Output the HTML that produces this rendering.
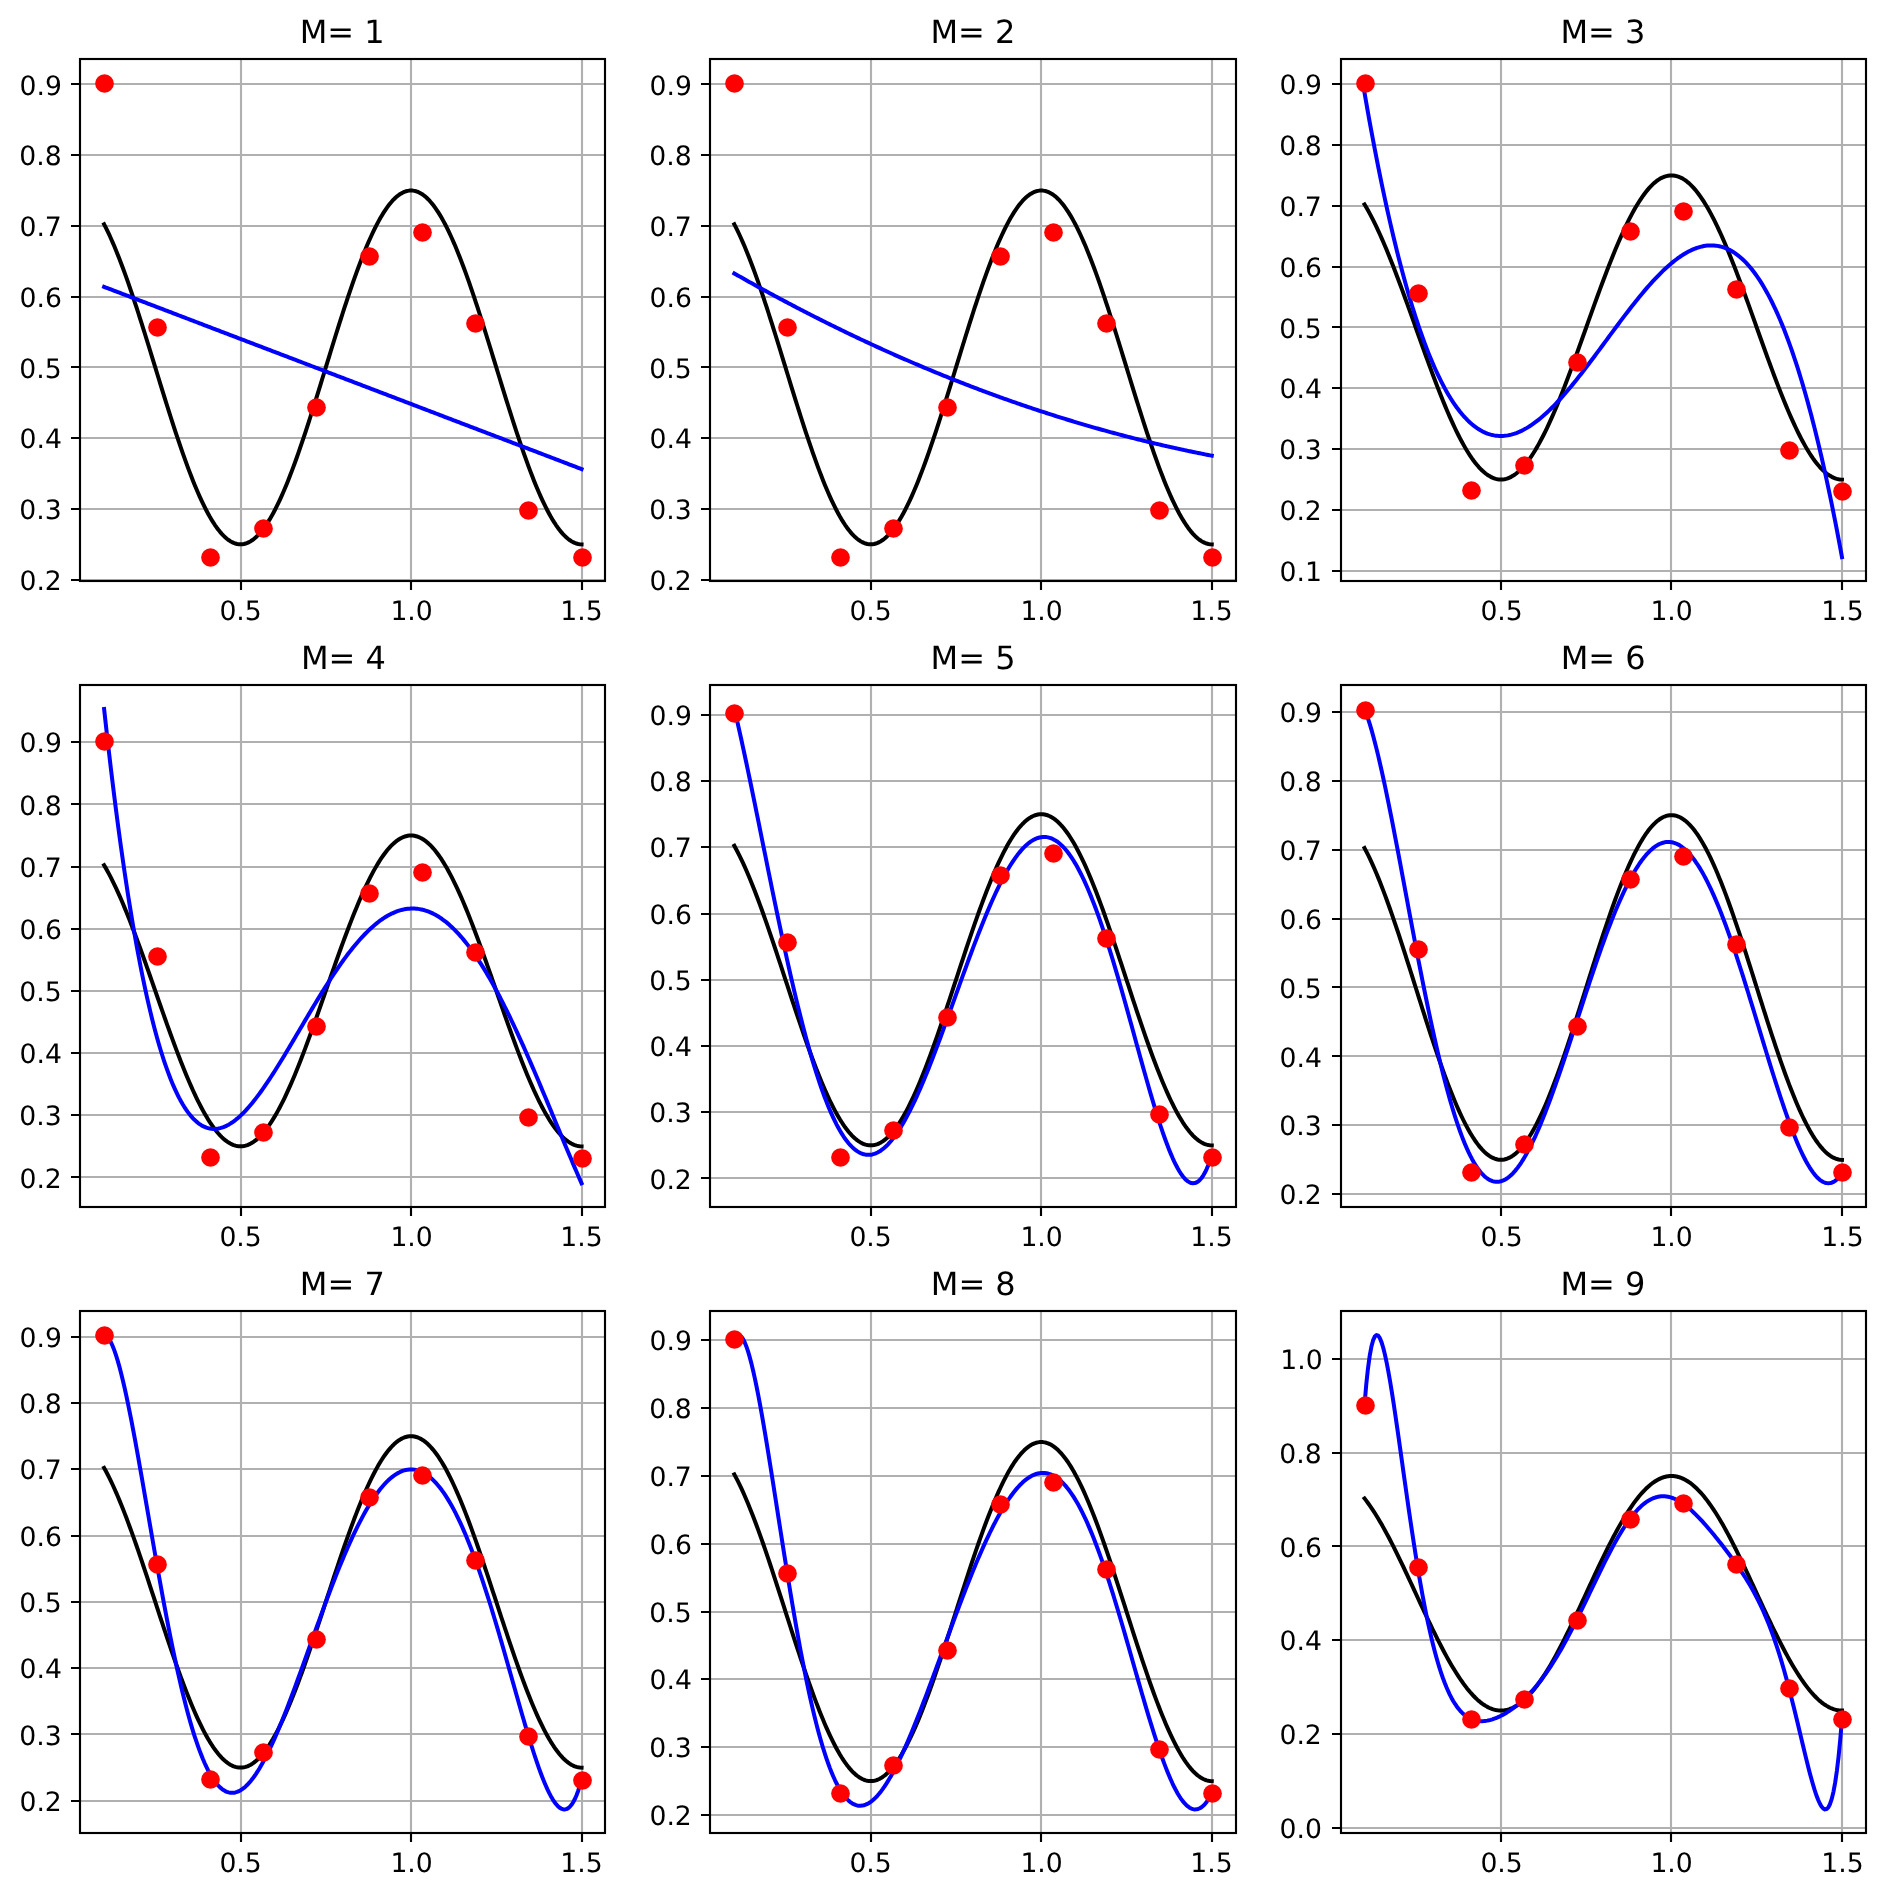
<!DOCTYPE html>
<html lang="en"><head><meta charset="utf-8"><title>Polynomial fits M=1..9</title>
<style>html,body{margin:0;padding:0;background:#fff;width:1885px;height:1897px;overflow:hidden}svg{display:block;will-change:transform}text{font-family:"DejaVu Sans","Liberation Sans",sans-serif;fill:#000;text-rendering:geometricPrecision}</style>
</head><body>
<svg width="1885" height="1897" viewBox="0 0 1885 1897">
<rect width="1885" height="1897" fill="#fff"/>
<g>
<path d="M241 59 V581 M411 59 V581 M582 59 V581 M80 580 H605 M80 509 H605 M80 438 H605 M80 367 H605 M80 297 H605 M80 226 H605 M80 155 H605 M80 84 H605" stroke="#b0b0b0" stroke-width="2.133" fill="none"/>
<path d="M241 581 v9 M411 581 v9 M582 581 v9 M80 580 h-9 M80 509 h-9 M80 438 h-9 M80 367 h-9 M80 297 h-9 M80 226 h-9 M80 155 h-9 M80 84 h-9" stroke="#000" stroke-width="2.133" fill="none"/>
<path d="M104.11 224.31 105.82 227.64 107.52 231.12 109.23 234.73 110.93 238.46 112.64 242.33 114.34 246.32 116.05 250.43 117.75 254.66 119.46 258.99 121.16 263.44 122.87 267.98 124.57 272.63 126.28 277.37 127.98 282.19 129.69 287.1 131.4 292.09 133.1 297.16 134.81 302.29 136.51 307.49 138.22 312.75 139.92 318.06 141.63 323.42 143.33 328.82 145.04 334.26 146.74 339.74 148.45 345.24 150.15 350.76 151.86 356.3 153.56 361.85 155.27 367.41 156.97 372.97 158.68 378.52 160.38 384.06 162.09 389.58 163.79 395.08 165.5 400.55 167.2 406 168.91 411.4 170.61 416.76 172.32 422.07 174.02 427.33 175.73 432.53 177.43 437.66 179.14 442.72 180.84 447.71 182.55 452.63 184.25 457.45 185.96 462.19 187.66 466.83 189.37 471.38 191.07 475.82 192.78 480.16 194.48 484.39 196.19 488.5 197.89 492.49 199.6 496.35 201.31 500.09 203.01 503.7 204.72 507.18 206.42 510.51 208.13 513.71 209.83 516.76 211.54 519.66 213.24 522.42 214.95 525.02 216.65 527.46 218.36 529.75 220.06 531.87 221.77 533.84 223.47 535.64 225.18 537.27 226.88 538.74 228.59 540.04 230.29 541.16 232 542.12 233.7 542.9 235.41 543.51 237.11 543.95 238.82 544.21 240.52 544.3 242.23 544.21 243.93 543.95 245.64 543.51 247.34 542.9 249.05 542.12 250.75 541.16 252.46 540.04 254.16 538.74 255.87 537.27 257.57 535.64 259.28 533.84 260.98 531.87 262.69 529.75 264.39 527.46 266.1 525.02 267.8 522.42 269.51 519.66 271.21 516.76 272.92 513.71 274.63 510.51 276.33 507.18 278.04 503.7 279.74 500.09 281.45 496.35 283.15 492.49 284.86 488.5 286.56 484.39 288.27 480.16 289.97 475.82 291.68 471.38 293.38 466.83 295.09 462.19 296.79 457.45 298.5 452.63 300.2 447.71 301.91 442.72 303.61 437.66 305.32 432.53 307.02 427.33 308.73 422.07 310.43 416.76 312.14 411.4 313.84 406 315.55 400.55 317.25 395.08 318.96 389.58 320.66 384.06 322.37 378.52 324.07 372.97 325.78 367.41 327.48 361.85 329.19 356.3 330.89 350.76 332.6 345.24 334.3 339.74 336.01 334.26 337.71 328.82 339.42 323.42 341.12 318.06 342.83 312.75 344.54 307.49 346.24 302.29 347.95 297.16 349.65 292.09 351.36 287.1 353.06 282.19 354.77 277.37 356.47 272.63 358.18 267.98 359.88 263.44 361.59 258.99 363.29 254.66 365 250.43 366.7 246.32 368.41 242.33 370.11 238.46 371.82 234.73 373.52 231.12 375.23 227.64 376.93 224.31 378.64 221.11 380.34 218.06 382.05 215.16 383.75 212.4 385.46 209.8 387.16 207.36 388.87 205.07 390.57 202.94 392.28 200.98 393.98 199.18 395.69 197.55 397.39 196.08 399.1 194.78 400.8 193.66 402.51 192.7 404.21 191.92 405.92 191.31 407.62 190.87 409.33 190.61 411.03 190.52 412.74 190.61 414.44 190.87 416.15 191.31 417.86 191.92 419.56 192.7 421.27 193.66 422.97 194.78 424.68 196.08 426.38 197.55 428.09 199.18 429.79 200.98 431.5 202.94 433.2 205.07 434.91 207.36 436.61 209.8 438.32 212.4 440.02 215.16 441.73 218.06 443.43 221.11 445.14 224.31 446.84 227.64 448.55 231.12 450.25 234.73 451.96 238.46 453.66 242.33 455.37 246.32 457.07 250.43 458.78 254.66 460.48 258.99 462.19 263.44 463.89 267.98 465.6 272.63 467.3 277.37 469.01 282.19 470.71 287.1 472.42 292.09 474.12 297.16 475.83 302.29 477.53 307.49 479.24 312.75 480.94 318.06 482.65 323.42 484.35 328.82 486.06 334.26 487.76 339.74 489.47 345.24 491.18 350.76 492.88 356.3 494.59 361.85 496.29 367.41 498 372.97 499.7 378.52 501.41 384.06 503.11 389.58 504.82 395.08 506.52 400.55 508.23 406 509.93 411.4 511.64 416.76 513.34 422.07 515.05 427.33 516.75 432.53 518.46 437.66 520.16 442.72 521.87 447.71 523.57 452.63 525.28 457.45 526.98 462.19 528.69 466.83 530.39 471.38 532.1 475.82 533.8 480.16 535.51 484.39 537.21 488.5 538.92 492.49 540.62 496.35 542.33 500.09 544.03 503.7 545.74 507.18 547.44 510.51 549.15 513.71 550.85 516.76 552.56 519.66 554.26 522.42 555.97 525.02 557.67 527.46 559.38 529.75 561.09 531.87 562.79 533.84 564.5 535.64 566.2 537.27 567.91 538.74 569.61 540.04 571.32 541.16 573.02 542.12 574.73 542.9 576.43 543.51 578.14 543.95 579.84 544.21 581.55 544.3" stroke="#000" stroke-width="4.000" fill="none" stroke-linecap="square" stroke-linejoin="round"/>
<path d="M104.11 286.87 105.82 287.52 107.52 288.17 109.23 288.82 110.93 289.47 112.64 290.12 114.34 290.77 116.05 291.42 117.75 292.07 119.46 292.72 121.16 293.37 122.87 294.02 124.57 294.68 126.28 295.33 127.98 295.98 129.69 296.63 131.4 297.28 133.1 297.93 134.81 298.58 136.51 299.23 138.22 299.88 139.92 300.53 141.63 301.18 143.33 301.83 145.04 302.48 146.74 303.13 148.45 303.78 150.15 304.44 151.86 305.09 153.56 305.74 155.27 306.39 156.97 307.04 158.68 307.69 160.38 308.34 162.09 308.99 163.79 309.64 165.5 310.29 167.2 310.94 168.91 311.59 170.61 312.24 172.32 312.89 174.02 313.55 175.73 314.2 177.43 314.85 179.14 315.5 180.84 316.15 182.55 316.8 184.25 317.45 185.96 318.1 187.66 318.75 189.37 319.4 191.07 320.05 192.78 320.7 194.48 321.35 196.19 322 197.89 322.66 199.6 323.31 201.31 323.96 203.01 324.61 204.72 325.26 206.42 325.91 208.13 326.56 209.83 327.21 211.54 327.86 213.24 328.51 214.95 329.16 216.65 329.81 218.36 330.46 220.06 331.11 221.77 331.76 223.47 332.42 225.18 333.07 226.88 333.72 228.59 334.37 230.29 335.02 232 335.67 233.7 336.32 235.41 336.97 237.11 337.62 238.82 338.27 240.52 338.92 242.23 339.57 243.93 340.22 245.64 340.87 247.34 341.53 249.05 342.18 250.75 342.83 252.46 343.48 254.16 344.13 255.87 344.78 257.57 345.43 259.28 346.08 260.98 346.73 262.69 347.38 264.39 348.03 266.1 348.68 267.8 349.33 269.51 349.98 271.21 350.63 272.92 351.29 274.63 351.94 276.33 352.59 278.04 353.24 279.74 353.89 281.45 354.54 283.15 355.19 284.86 355.84 286.56 356.49 288.27 357.14 289.97 357.79 291.68 358.44 293.38 359.09 295.09 359.74 296.79 360.4 298.5 361.05 300.2 361.7 301.91 362.35 303.61 363 305.32 363.65 307.02 364.3 308.73 364.95 310.43 365.6 312.14 366.25 313.84 366.9 315.55 367.55 317.25 368.2 318.96 368.85 320.66 369.51 322.37 370.16 324.07 370.81 325.78 371.46 327.48 372.11 329.19 372.76 330.89 373.41 332.6 374.06 334.3 374.71 336.01 375.36 337.71 376.01 339.42 376.66 341.12 377.31 342.83 377.96 344.54 378.61 346.24 379.27 347.95 379.92 349.65 380.57 351.36 381.22 353.06 381.87 354.77 382.52 356.47 383.17 358.18 383.82 359.88 384.47 361.59 385.12 363.29 385.77 365 386.42 366.7 387.07 368.41 387.72 370.11 388.38 371.82 389.03 373.52 389.68 375.23 390.33 376.93 390.98 378.64 391.63 380.34 392.28 382.05 392.93 383.75 393.58 385.46 394.23 387.16 394.88 388.87 395.53 390.57 396.18 392.28 396.83 393.98 397.48 395.69 398.14 397.39 398.79 399.1 399.44 400.8 400.09 402.51 400.74 404.21 401.39 405.92 402.04 407.62 402.69 409.33 403.34 411.03 403.99 412.74 404.64 414.44 405.29 416.15 405.94 417.86 406.59 419.56 407.25 421.27 407.9 422.97 408.55 424.68 409.2 426.38 409.85 428.09 410.5 429.79 411.15 431.5 411.8 433.2 412.45 434.91 413.1 436.61 413.75 438.32 414.4 440.02 415.05 441.73 415.7 443.43 416.36 445.14 417.01 446.84 417.66 448.55 418.31 450.25 418.96 451.96 419.61 453.66 420.26 455.37 420.91 457.07 421.56 458.78 422.21 460.48 422.86 462.19 423.51 463.89 424.16 465.6 424.81 467.3 425.46 469.01 426.12 470.71 426.77 472.42 427.42 474.12 428.07 475.83 428.72 477.53 429.37 479.24 430.02 480.94 430.67 482.65 431.32 484.35 431.97 486.06 432.62 487.76 433.27 489.47 433.92 491.18 434.57 492.88 435.23 494.59 435.88 496.29 436.53 498 437.18 499.7 437.83 501.41 438.48 503.11 439.13 504.82 439.78 506.52 440.43 508.23 441.08 509.93 441.73 511.64 442.38 513.34 443.03 515.05 443.68 516.75 444.33 518.46 444.99 520.16 445.64 521.87 446.29 523.57 446.94 525.28 447.59 526.98 448.24 528.69 448.89 530.39 449.54 532.1 450.19 533.8 450.84 535.51 451.49 537.21 452.14 538.92 452.79 540.62 453.44 542.33 454.1 544.03 454.75 545.74 455.4 547.44 456.05 549.15 456.7 550.85 457.35 552.56 458 554.26 458.65 555.97 459.3 557.67 459.95 559.38 460.6 561.09 461.25 562.79 461.9 564.5 462.55 566.2 463.21 567.91 463.86 569.61 464.51 571.32 465.16 573.02 465.81 574.73 466.46 576.43 467.11 578.14 467.76 579.84 468.41 581.55 469.06" stroke="#00f" stroke-width="4.000" fill="none" stroke-linecap="square" stroke-linejoin="round"/>
<g fill="#f00"><circle cx="104.5" cy="83.5" r="9.333"/><circle cx="157.5" cy="327.5" r="9.333"/><circle cx="210.5" cy="557.5" r="9.333"/><circle cx="263.5" cy="528.5" r="9.333"/><circle cx="316.5" cy="407.5" r="9.333"/><circle cx="369.5" cy="256.5" r="9.333"/><circle cx="422.5" cy="232.5" r="9.333"/><circle cx="475.5" cy="323.5" r="9.333"/><circle cx="528.5" cy="510.5" r="9.333"/><circle cx="582.5" cy="557.5" r="9.333"/></g>
<rect x="80" y="59" width="525" height="522" fill="none" stroke="#000" stroke-width="2.133"/>
<g font-size="26.667" text-anchor="end">
<text x="61.85" y="589.84">0.2</text>
<text x="61.62" y="518.79">0.3</text>
<text x="61.92" y="447.77">0.4</text>
<text x="61.75" y="377.74">0.5</text>
<text x="61.86" y="306.84">0.6</text>
<text x="61.85" y="235.85">0.7</text>
<text x="61.71" y="164.72">0.8</text>
<text x="61.86" y="94.70">0.9</text>
</g><g font-size="26.667" text-anchor="middle">
<text x="240.60" y="619.74">0.5</text>
<text x="411.59" y="619.80">1.0</text>
<text x="581.48" y="619.82">1.5</text>
</g>
<text font-size="32.000" text-anchor="middle" x="342.22" y="42.90">M= 1</text>
</g>
<g>
<path d="M871 59 V581 M1041 59 V581 M1212 59 V581 M710 580 H1236 M710 509 H1236 M710 438 H1236 M710 367 H1236 M710 297 H1236 M710 226 H1236 M710 155 H1236 M710 84 H1236" stroke="#b0b0b0" stroke-width="2.133" fill="none"/>
<path d="M871 581 v9 M1041 581 v9 M1212 581 v9 M710 580 h-9 M710 509 h-9 M710 438 h-9 M710 367 h-9 M710 297 h-9 M710 226 h-9 M710 155 h-9 M710 84 h-9" stroke="#000" stroke-width="2.133" fill="none"/>
<path d="M734.33 224.31 736.03 227.64 737.74 231.12 739.44 234.73 741.15 238.46 742.85 242.33 744.56 246.32 746.26 250.43 747.97 254.66 749.67 258.99 751.38 263.44 753.08 267.98 754.79 272.63 756.49 277.37 758.2 282.19 759.9 287.1 761.61 292.09 763.31 297.16 765.02 302.29 766.72 307.49 768.43 312.75 770.13 318.06 771.84 323.42 773.54 328.82 775.25 334.26 776.95 339.74 778.66 345.24 780.36 350.76 782.07 356.3 783.77 361.85 785.48 367.41 787.18 372.97 788.89 378.52 790.59 384.06 792.3 389.58 794 395.08 795.71 400.55 797.41 406 799.12 411.4 800.82 416.76 802.53 422.07 804.23 427.33 805.94 432.53 807.65 437.66 809.35 442.72 811.06 447.71 812.76 452.63 814.47 457.45 816.17 462.19 817.88 466.83 819.58 471.38 821.29 475.82 822.99 480.16 824.7 484.39 826.4 488.5 828.11 492.49 829.81 496.35 831.52 500.09 833.22 503.7 834.93 507.18 836.63 510.51 838.34 513.71 840.04 516.76 841.75 519.66 843.45 522.42 845.16 525.02 846.86 527.46 848.57 529.75 850.27 531.87 851.98 533.84 853.68 535.64 855.39 537.27 857.09 538.74 858.8 540.04 860.5 541.16 862.21 542.12 863.91 542.9 865.62 543.51 867.32 543.95 869.03 544.21 870.73 544.3 872.44 544.21 874.14 543.95 875.85 543.51 877.56 542.9 879.26 542.12 880.97 541.16 882.67 540.04 884.38 538.74 886.08 537.27 887.79 535.64 889.49 533.84 891.2 531.87 892.9 529.75 894.61 527.46 896.31 525.02 898.02 522.42 899.72 519.66 901.43 516.76 903.13 513.71 904.84 510.51 906.54 507.18 908.25 503.7 909.95 500.09 911.66 496.35 913.36 492.49 915.07 488.5 916.77 484.39 918.48 480.16 920.18 475.82 921.89 471.38 923.59 466.83 925.3 462.19 927 457.45 928.71 452.63 930.41 447.71 932.12 442.72 933.82 437.66 935.53 432.53 937.23 427.33 938.94 422.07 940.64 416.76 942.35 411.4 944.05 406 945.76 400.55 947.46 395.08 949.17 389.58 950.88 384.06 952.58 378.52 954.29 372.97 955.99 367.41 957.7 361.85 959.4 356.3 961.11 350.76 962.81 345.24 964.52 339.74 966.22 334.26 967.93 328.82 969.63 323.42 971.34 318.06 973.04 312.75 974.75 307.49 976.45 302.29 978.16 297.16 979.86 292.09 981.57 287.1 983.27 282.19 984.98 277.37 986.68 272.63 988.39 267.98 990.09 263.44 991.8 258.99 993.5 254.66 995.21 250.43 996.91 246.32 998.62 242.33 1000.32 238.46 1002.03 234.73 1003.73 231.12 1005.44 227.64 1007.14 224.31 1008.85 221.11 1010.55 218.06 1012.26 215.16 1013.96 212.4 1015.67 209.8 1017.37 207.36 1019.08 205.07 1020.78 202.94 1022.49 200.98 1024.2 199.18 1025.9 197.55 1027.61 196.08 1029.31 194.78 1031.02 193.66 1032.72 192.7 1034.43 191.92 1036.13 191.31 1037.84 190.87 1039.54 190.61 1041.25 190.52 1042.95 190.61 1044.66 190.87 1046.36 191.31 1048.07 191.92 1049.77 192.7 1051.48 193.66 1053.18 194.78 1054.89 196.08 1056.59 197.55 1058.3 199.18 1060 200.98 1061.71 202.94 1063.41 205.07 1065.12 207.36 1066.82 209.8 1068.53 212.4 1070.23 215.16 1071.94 218.06 1073.64 221.11 1075.35 224.31 1077.05 227.64 1078.76 231.12 1080.46 234.73 1082.17 238.46 1083.87 242.33 1085.58 246.32 1087.28 250.43 1088.99 254.66 1090.69 258.99 1092.4 263.44 1094.11 267.98 1095.81 272.63 1097.52 277.37 1099.22 282.19 1100.93 287.1 1102.63 292.09 1104.34 297.16 1106.04 302.29 1107.75 307.49 1109.45 312.75 1111.16 318.06 1112.86 323.42 1114.57 328.82 1116.27 334.26 1117.98 339.74 1119.68 345.24 1121.39 350.76 1123.09 356.3 1124.8 361.85 1126.5 367.41 1128.21 372.97 1129.91 378.52 1131.62 384.06 1133.32 389.58 1135.03 395.08 1136.73 400.55 1138.44 406 1140.14 411.4 1141.85 416.76 1143.55 422.07 1145.26 427.33 1146.96 432.53 1148.67 437.66 1150.37 442.72 1152.08 447.71 1153.78 452.63 1155.49 457.45 1157.19 462.19 1158.9 466.83 1160.6 471.38 1162.31 475.82 1164.01 480.16 1165.72 484.39 1167.43 488.5 1169.13 492.49 1170.84 496.35 1172.54 500.09 1174.25 503.7 1175.95 507.18 1177.66 510.51 1179.36 513.71 1181.07 516.76 1182.77 519.66 1184.48 522.42 1186.18 525.02 1187.89 527.46 1189.59 529.75 1191.3 531.87 1193 533.84 1194.71 535.64 1196.41 537.27 1198.12 538.74 1199.82 540.04 1201.53 541.16 1203.23 542.12 1204.94 542.9 1206.64 543.51 1208.35 543.95 1210.05 544.21 1211.76 544.3" stroke="#000" stroke-width="4.000" fill="none" stroke-linecap="square" stroke-linejoin="round"/>
<path d="M734.33 273.47 736.03 274.44 737.74 275.41 739.44 276.38 741.15 277.35 742.85 278.31 744.56 279.27 746.26 280.23 747.97 281.19 749.67 282.14 751.38 283.09 753.08 284.04 754.79 284.99 756.49 285.93 758.2 286.88 759.9 287.82 761.61 288.75 763.31 289.69 765.02 290.62 766.72 291.55 768.43 292.48 770.13 293.41 771.84 294.33 773.54 295.25 775.25 296.17 776.95 297.09 778.66 298.01 780.36 298.92 782.07 299.83 783.77 300.74 785.48 301.64 787.18 302.54 788.89 303.45 790.59 304.34 792.3 305.24 794 306.13 795.71 307.03 797.41 307.92 799.12 308.8 800.82 309.69 802.53 310.57 804.23 311.45 805.94 312.33 807.65 313.2 809.35 314.08 811.06 314.95 812.76 315.82 814.47 316.68 816.17 317.55 817.88 318.41 819.58 319.27 821.29 320.13 822.99 320.98 824.7 321.83 826.4 322.68 828.11 323.53 829.81 324.38 831.52 325.22 833.22 326.06 834.93 326.9 836.63 327.74 838.34 328.57 840.04 329.4 841.75 330.23 843.45 331.06 845.16 331.88 846.86 332.71 848.57 333.53 850.27 334.34 851.98 335.16 853.68 335.97 855.39 336.78 857.09 337.59 858.8 338.4 860.5 339.2 862.21 340.01 863.91 340.81 865.62 341.6 867.32 342.4 869.03 343.19 870.73 343.98 872.44 344.77 874.14 345.55 875.85 346.34 877.56 347.12 879.26 347.9 880.97 348.67 882.67 349.45 884.38 350.22 886.08 350.99 887.79 351.76 889.49 352.52 891.2 353.28 892.9 354.04 894.61 354.8 896.31 355.56 898.02 356.31 899.72 357.06 901.43 357.81 903.13 358.56 904.84 359.3 906.54 360.04 908.25 360.78 909.95 361.52 911.66 362.25 913.36 362.99 915.07 363.72 916.77 364.45 918.48 365.17 920.18 365.89 921.89 366.62 923.59 367.33 925.3 368.05 927 368.76 928.71 369.48 930.41 370.19 932.12 370.89 933.82 371.6 935.53 372.3 937.23 373 938.94 373.7 940.64 374.39 942.35 375.09 944.05 375.78 945.76 376.47 947.46 377.15 949.17 377.84 950.88 378.52 952.58 379.2 954.29 379.88 955.99 380.55 957.7 381.22 959.4 381.89 961.11 382.56 962.81 383.23 964.52 383.89 966.22 384.55 967.93 385.21 969.63 385.87 971.34 386.52 973.04 387.17 974.75 387.82 976.45 388.47 978.16 389.12 979.86 389.76 981.57 390.4 983.27 391.04 984.98 391.67 986.68 392.31 988.39 392.94 990.09 393.57 991.8 394.19 993.5 394.82 995.21 395.44 996.91 396.06 998.62 396.68 1000.32 397.29 1002.03 397.9 1003.73 398.51 1005.44 399.12 1007.14 399.73 1008.85 400.33 1010.55 400.93 1012.26 401.53 1013.96 402.13 1015.67 402.72 1017.37 403.31 1019.08 403.9 1020.78 404.49 1022.49 405.07 1024.2 405.66 1025.9 406.24 1027.61 406.82 1029.31 407.39 1031.02 407.96 1032.72 408.54 1034.43 409.1 1036.13 409.67 1037.84 410.24 1039.54 410.8 1041.25 411.36 1042.95 411.91 1044.66 412.47 1046.36 413.02 1048.07 413.57 1049.77 414.12 1051.48 414.67 1053.18 415.21 1054.89 415.75 1056.59 416.29 1058.3 416.83 1060 417.36 1061.71 417.89 1063.41 418.42 1065.12 418.95 1066.82 419.47 1068.53 420 1070.23 420.52 1071.94 421.03 1073.64 421.55 1075.35 422.06 1077.05 422.57 1078.76 423.08 1080.46 423.59 1082.17 424.09 1083.87 424.6 1085.58 425.1 1087.28 425.59 1088.99 426.09 1090.69 426.58 1092.4 427.07 1094.11 427.56 1095.81 428.05 1097.52 428.53 1099.22 429.01 1100.93 429.49 1102.63 429.96 1104.34 430.44 1106.04 430.91 1107.75 431.38 1109.45 431.85 1111.16 432.31 1112.86 432.78 1114.57 433.24 1116.27 433.69 1117.98 434.15 1119.68 434.6 1121.39 435.05 1123.09 435.5 1124.8 435.95 1126.5 436.39 1128.21 436.84 1129.91 437.28 1131.62 437.71 1133.32 438.15 1135.03 438.58 1136.73 439.01 1138.44 439.44 1140.14 439.86 1141.85 440.29 1143.55 440.71 1145.26 441.13 1146.96 441.55 1148.67 441.96 1150.37 442.37 1152.08 442.78 1153.78 443.19 1155.49 443.59 1157.19 444 1158.9 444.4 1160.6 444.79 1162.31 445.19 1164.01 445.58 1165.72 445.97 1167.43 446.36 1169.13 446.75 1170.84 447.13 1172.54 447.52 1174.25 447.9 1175.95 448.27 1177.66 448.65 1179.36 449.02 1181.07 449.39 1182.77 449.76 1184.48 450.13 1186.18 450.49 1187.89 450.85 1189.59 451.21 1191.3 451.57 1193 451.92 1194.71 452.27 1196.41 452.62 1198.12 452.97 1199.82 453.31 1201.53 453.66 1203.23 454 1204.94 454.34 1206.64 454.67 1208.35 455 1210.05 455.34 1211.76 455.66" stroke="#00f" stroke-width="4.000" fill="none" stroke-linecap="square" stroke-linejoin="round"/>
<g fill="#f00"><circle cx="734.5" cy="83.5" r="9.333"/><circle cx="787.5" cy="327.5" r="9.333"/><circle cx="840.5" cy="557.5" r="9.333"/><circle cx="893.5" cy="528.5" r="9.333"/><circle cx="947.5" cy="407.5" r="9.333"/><circle cx="1000.5" cy="256.5" r="9.333"/><circle cx="1053.5" cy="232.5" r="9.333"/><circle cx="1106.5" cy="323.5" r="9.333"/><circle cx="1159.5" cy="510.5" r="9.333"/><circle cx="1212.5" cy="557.5" r="9.333"/></g>
<rect x="710" y="59" width="526" height="522" fill="none" stroke="#000" stroke-width="2.133"/>
<g font-size="26.667" text-anchor="end">
<text x="691.85" y="589.84">0.2</text>
<text x="691.62" y="518.79">0.3</text>
<text x="691.92" y="447.77">0.4</text>
<text x="691.75" y="377.74">0.5</text>
<text x="691.86" y="306.84">0.6</text>
<text x="691.85" y="235.85">0.7</text>
<text x="691.71" y="164.72">0.8</text>
<text x="691.86" y="94.70">0.9</text>
</g><g font-size="26.667" text-anchor="middle">
<text x="870.60" y="619.74">0.5</text>
<text x="1041.59" y="619.80">1.0</text>
<text x="1211.48" y="619.82">1.5</text>
</g>
<text font-size="32.000" text-anchor="middle" x="972.86" y="42.93">M= 2</text>
</g>
<g>
<path d="M1501 59 V581 M1671 59 V581 M1842 59 V581 M1341 571 H1866 M1341 510 H1866 M1341 449 H1866 M1341 388 H1866 M1341 327 H1866 M1341 267 H1866 M1341 206 H1866 M1341 145 H1866 M1341 84 H1866" stroke="#b0b0b0" stroke-width="2.133" fill="none"/>
<path d="M1501 581 v9 M1671 581 v9 M1842 581 v9 M1341 571 h-9 M1341 510 h-9 M1341 449 h-9 M1341 388 h-9 M1341 327 h-9 M1341 267 h-9 M1341 206 h-9 M1341 145 h-9 M1341 84 h-9" stroke="#000" stroke-width="2.133" fill="none"/>
<path d="M1364.54 204.44 1366.24 207.31 1367.95 210.3 1369.65 213.4 1371.36 216.62 1373.06 219.94 1374.77 223.37 1376.47 226.9 1378.18 230.54 1379.88 234.26 1381.59 238.08 1383.29 241.99 1385 245.98 1386.7 250.06 1388.41 254.21 1390.11 258.43 1391.82 262.72 1393.52 267.07 1395.23 271.49 1396.93 275.95 1398.64 280.47 1400.34 285.04 1402.05 289.65 1403.75 294.29 1405.46 298.97 1407.16 303.68 1408.87 308.41 1410.58 313.15 1412.28 317.92 1413.99 322.69 1415.69 327.46 1417.4 332.24 1419.1 337.01 1420.81 341.77 1422.51 346.52 1424.22 351.25 1425.92 355.96 1427.63 360.64 1429.33 365.28 1431.04 369.89 1432.74 374.45 1434.45 378.97 1436.15 383.44 1437.86 387.86 1439.56 392.21 1441.27 396.5 1442.97 400.72 1444.68 404.87 1446.38 408.94 1448.09 412.94 1449.79 416.84 1451.5 420.66 1453.2 424.39 1454.91 428.02 1456.61 431.56 1458.32 434.99 1460.02 438.31 1461.73 441.53 1463.43 444.63 1465.14 447.62 1466.84 450.49 1468.55 453.23 1470.25 455.85 1471.96 458.35 1473.66 460.72 1475.37 462.95 1477.07 465.05 1478.78 467.02 1480.48 468.85 1482.19 470.54 1483.9 472.08 1485.6 473.49 1487.31 474.75 1489.01 475.86 1490.72 476.83 1492.42 477.65 1494.13 478.33 1495.83 478.85 1497.54 479.23 1499.24 479.45 1500.95 479.53 1502.65 479.45 1504.36 479.23 1506.06 478.85 1507.77 478.33 1509.47 477.65 1511.18 476.83 1512.88 475.86 1514.59 474.75 1516.29 473.49 1518 472.08 1519.7 470.54 1521.41 468.85 1523.11 467.02 1524.82 465.05 1526.52 462.95 1528.23 460.72 1529.93 458.35 1531.64 455.85 1533.34 453.23 1535.05 450.49 1536.75 447.62 1538.46 444.63 1540.16 441.53 1541.87 438.31 1543.57 434.99 1545.28 431.56 1546.98 428.02 1548.69 424.39 1550.39 420.66 1552.1 416.84 1553.8 412.94 1555.51 408.94 1557.22 404.87 1558.92 400.72 1560.63 396.5 1562.33 392.21 1564.04 387.86 1565.74 383.44 1567.45 378.97 1569.15 374.45 1570.86 369.89 1572.56 365.28 1574.27 360.64 1575.97 355.96 1577.68 351.25 1579.38 346.52 1581.09 341.77 1582.79 337.01 1584.5 332.24 1586.2 327.46 1587.91 322.69 1589.61 317.92 1591.32 313.15 1593.02 308.41 1594.73 303.68 1596.43 298.97 1598.14 294.29 1599.84 289.65 1601.55 285.04 1603.25 280.47 1604.96 275.95 1606.66 271.49 1608.37 267.07 1610.07 262.72 1611.78 258.43 1613.48 254.21 1615.19 250.06 1616.89 245.98 1618.6 241.99 1620.3 238.08 1622.01 234.26 1623.71 230.54 1625.42 226.9 1627.13 223.37 1628.83 219.94 1630.54 216.62 1632.24 213.4 1633.95 210.3 1635.65 207.31 1637.36 204.44 1639.06 201.7 1640.77 199.07 1642.47 196.58 1644.18 194.21 1645.88 191.98 1647.59 189.87 1649.29 187.91 1651 186.08 1652.7 184.39 1654.41 182.84 1656.11 181.44 1657.82 180.18 1659.52 179.06 1661.23 178.09 1662.93 177.27 1664.64 176.6 1666.34 176.08 1668.05 175.7 1669.75 175.48 1671.46 175.4 1673.16 175.48 1674.87 175.7 1676.57 176.08 1678.28 176.6 1679.98 177.27 1681.69 178.09 1683.39 179.06 1685.1 180.18 1686.8 181.44 1688.51 182.84 1690.21 184.39 1691.92 186.08 1693.62 187.91 1695.33 189.87 1697.03 191.98 1698.74 194.21 1700.45 196.58 1702.15 199.07 1703.86 201.7 1705.56 204.44 1707.27 207.31 1708.97 210.3 1710.68 213.4 1712.38 216.62 1714.09 219.94 1715.79 223.37 1717.5 226.9 1719.2 230.54 1720.91 234.26 1722.61 238.08 1724.32 241.99 1726.02 245.98 1727.73 250.06 1729.43 254.21 1731.14 258.43 1732.84 262.72 1734.55 267.07 1736.25 271.49 1737.96 275.95 1739.66 280.47 1741.37 285.04 1743.07 289.65 1744.78 294.29 1746.48 298.97 1748.19 303.68 1749.89 308.41 1751.6 313.15 1753.3 317.92 1755.01 322.69 1756.71 327.46 1758.42 332.24 1760.12 337.01 1761.83 341.77 1763.53 346.52 1765.24 351.25 1766.94 355.96 1768.65 360.64 1770.36 365.28 1772.06 369.89 1773.77 374.45 1775.47 378.97 1777.18 383.44 1778.88 387.86 1780.59 392.21 1782.29 396.5 1784 400.72 1785.7 404.87 1787.41 408.94 1789.11 412.94 1790.82 416.84 1792.52 420.66 1794.23 424.39 1795.93 428.02 1797.64 431.56 1799.34 434.99 1801.05 438.31 1802.75 441.53 1804.46 444.63 1806.16 447.62 1807.87 450.49 1809.57 453.23 1811.28 455.85 1812.98 458.35 1814.69 460.72 1816.39 462.95 1818.1 465.05 1819.8 467.02 1821.51 468.85 1823.21 470.54 1824.92 472.08 1826.62 473.49 1828.33 474.75 1830.03 475.86 1831.74 476.83 1833.44 477.65 1835.15 478.33 1836.85 478.85 1838.56 479.23 1840.26 479.45 1841.97 479.53" stroke="#000" stroke-width="4.000" fill="none" stroke-linecap="square" stroke-linejoin="round"/>
<path d="M1364.54 92.92 1366.24 102.71 1367.95 112.33 1369.65 121.79 1371.36 131.07 1373.06 140.19 1374.77 149.14 1376.47 157.93 1378.18 166.55 1379.88 175.01 1381.59 183.31 1383.29 191.45 1385 199.43 1386.7 207.25 1388.41 214.92 1390.11 222.43 1391.82 229.78 1393.52 236.99 1395.23 244.04 1396.93 250.94 1398.64 257.69 1400.34 264.3 1402.05 270.76 1403.75 277.07 1405.46 283.24 1407.16 289.27 1408.87 295.15 1410.58 300.89 1412.28 306.5 1413.99 311.96 1415.69 317.29 1417.4 322.48 1419.1 327.54 1420.81 332.47 1422.51 337.26 1424.22 341.92 1425.92 346.45 1427.63 350.86 1429.33 355.13 1431.04 359.29 1432.74 363.31 1434.45 367.21 1436.15 370.99 1437.86 374.65 1439.56 378.19 1441.27 381.61 1442.97 384.91 1444.68 388.1 1446.38 391.17 1448.09 394.13 1449.79 396.97 1451.5 399.71 1453.2 402.33 1454.91 404.84 1456.61 407.25 1458.32 409.55 1460.02 411.75 1461.73 413.84 1463.43 415.82 1465.14 417.71 1466.84 419.49 1468.55 421.18 1470.25 422.77 1471.96 424.26 1473.66 425.66 1475.37 426.96 1477.07 428.16 1478.78 429.28 1480.48 430.31 1482.19 431.24 1483.9 432.09 1485.6 432.85 1487.31 433.52 1489.01 434.11 1490.72 434.62 1492.42 435.04 1494.13 435.39 1495.83 435.65 1497.54 435.83 1499.24 435.94 1500.95 435.97 1502.65 435.93 1504.36 435.81 1506.06 435.62 1507.77 435.36 1509.47 435.03 1511.18 434.63 1512.88 434.16 1514.59 433.63 1516.29 433.03 1518 432.36 1519.7 431.64 1521.41 430.85 1523.11 430 1524.82 429.09 1526.52 428.13 1528.23 427.1 1529.93 426.03 1531.64 424.89 1533.34 423.71 1535.05 422.47 1536.75 421.19 1538.46 419.85 1540.16 418.46 1541.87 417.03 1543.57 415.55 1545.28 414.03 1546.98 412.47 1548.69 410.86 1550.39 409.21 1552.1 407.52 1553.8 405.8 1555.51 404.03 1557.22 402.23 1558.92 400.4 1560.63 398.53 1562.33 396.63 1564.04 394.7 1565.74 392.73 1567.45 390.74 1569.15 388.72 1570.86 386.68 1572.56 384.61 1574.27 382.52 1575.97 380.4 1577.68 378.26 1579.38 376.11 1581.09 373.93 1582.79 371.73 1584.5 369.52 1586.2 367.3 1587.91 365.06 1589.61 362.8 1591.32 360.54 1593.02 358.26 1594.73 355.98 1596.43 353.68 1598.14 351.38 1599.84 349.08 1601.55 346.77 1603.25 344.46 1604.96 342.14 1606.66 339.82 1608.37 337.51 1610.07 335.19 1611.78 332.88 1613.48 330.58 1615.19 328.28 1616.89 325.98 1618.6 323.69 1620.3 321.41 1622.01 319.15 1623.71 316.89 1625.42 314.65 1627.13 312.42 1628.83 310.2 1630.54 308 1632.24 305.82 1633.95 303.66 1635.65 301.51 1637.36 299.39 1639.06 297.29 1640.77 295.22 1642.47 293.17 1644.18 291.14 1645.88 289.14 1647.59 287.17 1649.29 285.23 1651 283.32 1652.7 281.45 1654.41 279.6 1656.11 277.79 1657.82 276.02 1659.52 274.28 1661.23 272.59 1662.93 270.93 1664.64 269.31 1666.34 267.73 1668.05 266.2 1669.75 264.71 1671.46 263.26 1673.16 261.87 1674.87 260.52 1676.57 259.22 1678.28 257.97 1679.98 256.77 1681.69 255.62 1683.39 254.53 1685.1 253.49 1686.8 252.51 1688.51 251.59 1690.21 250.73 1691.92 249.92 1693.62 249.18 1695.33 248.5 1697.03 247.88 1698.74 247.33 1700.45 246.85 1702.15 246.43 1703.86 246.08 1705.56 245.8 1707.27 245.59 1708.97 245.45 1710.68 245.39 1712.38 245.4 1714.09 245.49 1715.79 245.65 1717.5 245.89 1719.2 246.22 1720.91 246.62 1722.61 247.1 1724.32 247.67 1726.02 248.32 1727.73 249.06 1729.43 249.89 1731.14 250.8 1732.84 251.8 1734.55 252.89 1736.25 254.08 1737.96 255.35 1739.66 256.72 1741.37 258.19 1743.07 259.75 1744.78 261.41 1746.48 263.17 1748.19 265.03 1749.89 266.99 1751.6 269.06 1753.3 271.22 1755.01 273.49 1756.71 275.87 1758.42 278.36 1760.12 280.95 1761.83 283.66 1763.53 286.47 1765.24 289.4 1766.94 292.44 1768.65 295.6 1770.36 298.87 1772.06 302.26 1773.77 305.77 1775.47 309.39 1777.18 313.14 1778.88 317.01 1780.59 321.01 1782.29 325.12 1784 329.37 1785.7 333.74 1787.41 338.24 1789.11 342.87 1790.82 347.62 1792.52 352.51 1794.23 357.54 1795.93 362.7 1797.64 367.99 1799.34 373.42 1801.05 378.99 1802.75 384.69 1804.46 390.54 1806.16 396.53 1807.87 402.66 1809.57 408.93 1811.28 415.35 1812.98 421.92 1814.69 428.63 1816.39 435.5 1818.1 442.51 1819.8 449.67 1821.51 456.99 1823.21 464.46 1824.92 472.09 1826.62 479.87 1828.33 487.81 1830.03 495.9 1831.74 504.16 1833.44 512.58 1835.15 521.16 1836.85 529.9 1838.56 538.81 1840.26 547.88 1841.97 557.12" stroke="#00f" stroke-width="4.000" fill="none" stroke-linecap="square" stroke-linejoin="round"/>
<g fill="#f00"><circle cx="1365.5" cy="83.5" r="9.333"/><circle cx="1418.5" cy="293.5" r="9.333"/><circle cx="1471.5" cy="490.5" r="9.333"/><circle cx="1524.5" cy="465.5" r="9.333"/><circle cx="1577.5" cy="362.5" r="9.333"/><circle cx="1630.5" cy="231.5" r="9.333"/><circle cx="1683.5" cy="211.5" r="9.333"/><circle cx="1736.5" cy="289.5" r="9.333"/><circle cx="1789.5" cy="450.5" r="9.333"/><circle cx="1842.5" cy="491.5" r="9.333"/></g>
<rect x="1341" y="59" width="525" height="522" fill="none" stroke="#000" stroke-width="2.133"/>
<g font-size="26.667" text-anchor="end">
<text x="1321.94" y="580.80">0.1</text>
<text x="1321.85" y="519.84">0.2</text>
<text x="1321.62" y="458.79">0.3</text>
<text x="1321.92" y="397.77">0.4</text>
<text x="1321.75" y="337.74">0.5</text>
<text x="1321.86" y="276.84">0.6</text>
<text x="1321.85" y="215.85">0.7</text>
<text x="1321.71" y="154.72">0.8</text>
<text x="1321.86" y="93.70">0.9</text>
</g><g font-size="26.667" text-anchor="middle">
<text x="1501.60" y="619.74">0.5</text>
<text x="1671.59" y="619.80">1.0</text>
<text x="1842.48" y="619.82">1.5</text>
</g>
<text font-size="32.000" text-anchor="middle" x="1602.99" y="42.91">M= 3</text>
</g>
<g>
<path d="M241 685 V1207 M411 685 V1207 M582 685 V1207 M80 1177 H605 M80 1115 H605 M80 1053 H605 M80 991 H605 M80 929 H605 M80 867 H605 M80 804 H605 M80 742 H605" stroke="#b0b0b0" stroke-width="2.133" fill="none"/>
<path d="M241 1207 v9 M411 1207 v9 M582 1207 v9 M80 1177 h-9 M80 1115 h-9 M80 1053 h-9 M80 991 h-9 M80 929 h-9 M80 867 h-9 M80 804 h-9 M80 742 h-9" stroke="#000" stroke-width="2.133" fill="none"/>
<path d="M104.11 865.19 105.82 868.12 107.52 871.17 109.23 874.34 110.93 877.63 112.64 881.03 114.34 884.53 116.05 888.14 117.75 891.85 119.46 895.66 121.16 899.57 122.87 903.56 124.57 907.64 126.28 911.8 127.98 916.04 129.69 920.36 131.4 924.74 133.1 929.19 134.81 933.7 136.51 938.26 138.22 942.88 139.92 947.55 141.63 952.26 143.33 957 145.04 961.78 146.74 966.59 148.45 971.42 150.15 976.28 151.86 981.14 153.56 986.02 155.27 990.9 156.97 995.78 158.68 1000.66 160.38 1005.52 162.09 1010.38 163.79 1015.21 165.5 1020.02 167.2 1024.8 168.91 1029.54 170.61 1034.25 172.32 1038.92 174.02 1043.54 175.73 1048.1 177.43 1052.61 179.14 1057.06 180.84 1061.44 182.55 1065.76 184.25 1070 185.96 1074.16 187.66 1078.24 189.37 1082.23 191.07 1086.14 192.78 1089.95 194.48 1093.66 196.19 1097.27 197.89 1100.77 199.6 1104.17 201.31 1107.46 203.01 1110.63 204.72 1113.68 206.42 1116.61 208.13 1119.42 209.83 1122.1 211.54 1124.65 213.24 1127.07 214.95 1129.35 216.65 1131.5 218.36 1133.51 220.06 1135.37 221.77 1137.1 223.47 1138.68 225.18 1140.12 226.88 1141.4 228.59 1142.54 230.29 1143.53 232 1144.37 233.7 1145.06 235.41 1145.6 237.11 1145.98 238.82 1146.21 240.52 1146.29 242.23 1146.21 243.93 1145.98 245.64 1145.6 247.34 1145.06 249.05 1144.37 250.75 1143.53 252.46 1142.54 254.16 1141.4 255.87 1140.12 257.57 1138.68 259.28 1137.1 260.98 1135.37 262.69 1133.51 264.39 1131.5 266.1 1129.35 267.8 1127.07 269.51 1124.65 271.21 1122.1 272.92 1119.42 274.63 1116.61 276.33 1113.68 278.04 1110.63 279.74 1107.46 281.45 1104.17 283.15 1100.77 284.86 1097.27 286.56 1093.66 288.27 1089.95 289.97 1086.14 291.68 1082.23 293.38 1078.24 295.09 1074.16 296.79 1070 298.5 1065.76 300.2 1061.44 301.91 1057.06 303.61 1052.61 305.32 1048.1 307.02 1043.54 308.73 1038.92 310.43 1034.25 312.14 1029.54 313.84 1024.8 315.55 1020.02 317.25 1015.21 318.96 1010.38 320.66 1005.52 322.37 1000.66 324.07 995.78 325.78 990.9 327.48 986.02 329.19 981.14 330.89 976.28 332.6 971.42 334.3 966.59 336.01 961.78 337.71 957 339.42 952.26 341.12 947.55 342.83 942.88 344.54 938.26 346.24 933.7 347.95 929.19 349.65 924.74 351.36 920.36 353.06 916.04 354.77 911.8 356.47 907.64 358.18 903.56 359.88 899.57 361.59 895.66 363.29 891.85 365 888.14 366.7 884.53 368.41 881.03 370.11 877.63 371.82 874.34 373.52 871.17 375.23 868.12 376.93 865.19 378.64 862.38 380.34 859.7 382.05 857.15 383.75 854.73 385.46 852.45 387.16 850.3 388.87 848.29 390.57 846.43 392.28 844.7 393.98 843.12 395.69 841.68 397.39 840.4 399.1 839.26 400.8 838.27 402.51 837.43 404.21 836.74 405.92 836.2 407.62 835.82 409.33 835.59 411.03 835.51 412.74 835.59 414.44 835.82 416.15 836.2 417.86 836.74 419.56 837.43 421.27 838.27 422.97 839.26 424.68 840.4 426.38 841.68 428.09 843.12 429.79 844.7 431.5 846.43 433.2 848.29 434.91 850.3 436.61 852.45 438.32 854.73 440.02 857.15 441.73 859.7 443.43 862.38 445.14 865.19 446.84 868.12 448.55 871.17 450.25 874.34 451.96 877.63 453.66 881.03 455.37 884.53 457.07 888.14 458.78 891.85 460.48 895.66 462.19 899.57 463.89 903.56 465.6 907.64 467.3 911.8 469.01 916.04 470.71 920.36 472.42 924.74 474.12 929.19 475.83 933.7 477.53 938.26 479.24 942.88 480.94 947.55 482.65 952.26 484.35 957 486.06 961.78 487.76 966.59 489.47 971.42 491.18 976.28 492.88 981.14 494.59 986.02 496.29 990.9 498 995.78 499.7 1000.66 501.41 1005.52 503.11 1010.38 504.82 1015.21 506.52 1020.02 508.23 1024.8 509.93 1029.54 511.64 1034.25 513.34 1038.92 515.05 1043.54 516.75 1048.1 518.46 1052.61 520.16 1057.06 521.87 1061.44 523.57 1065.76 525.28 1070 526.98 1074.16 528.69 1078.24 530.39 1082.23 532.1 1086.14 533.8 1089.95 535.51 1093.66 537.21 1097.27 538.92 1100.77 540.62 1104.17 542.33 1107.46 544.03 1110.63 545.74 1113.68 547.44 1116.61 549.15 1119.42 550.85 1122.1 552.56 1124.65 554.26 1127.07 555.97 1129.35 557.67 1131.5 559.38 1133.51 561.09 1135.37 562.79 1137.1 564.5 1138.68 566.2 1140.12 567.91 1141.4 569.61 1142.54 571.32 1143.53 573.02 1144.37 574.73 1145.06 576.43 1145.6 578.14 1145.98 579.84 1146.21 581.55 1146.29" stroke="#000" stroke-width="4.000" fill="none" stroke-linecap="square" stroke-linejoin="round"/>
<path d="M104.11 708.92 105.82 724.49 107.52 739.69 109.23 754.51 110.93 768.97 112.64 783.07 114.34 796.81 116.05 810.2 117.75 823.25 119.46 835.94 121.16 848.3 122.87 860.33 124.57 872.03 126.28 883.4 127.98 894.45 129.69 905.18 131.4 915.61 133.1 925.72 134.81 935.53 136.51 945.04 138.22 954.26 139.92 963.19 141.63 971.83 143.33 980.19 145.04 988.27 146.74 996.08 148.45 1003.62 150.15 1010.9 151.86 1017.91 153.56 1024.67 155.27 1031.17 156.97 1037.42 158.68 1043.43 160.38 1049.2 162.09 1054.73 163.79 1060.03 165.5 1065.1 167.2 1069.94 168.91 1074.56 170.61 1078.96 172.32 1083.15 174.02 1087.13 175.73 1090.91 177.43 1094.48 179.14 1097.85 180.84 1101.02 182.55 1104 184.25 1106.8 185.96 1109.41 187.66 1111.84 189.37 1114.09 191.07 1116.17 192.78 1118.08 194.48 1119.82 196.19 1121.4 197.89 1122.81 199.6 1124.07 201.31 1125.18 203.01 1126.14 204.72 1126.94 206.42 1127.61 208.13 1128.14 209.83 1128.53 211.54 1128.78 213.24 1128.91 214.95 1128.9 216.65 1128.78 218.36 1128.53 220.06 1128.16 221.77 1127.68 223.47 1127.09 225.18 1126.38 226.88 1125.57 228.59 1124.66 230.29 1123.65 232 1122.54 233.7 1121.34 235.41 1120.04 237.11 1118.66 238.82 1117.19 240.52 1115.64 242.23 1114.01 243.93 1112.3 245.64 1110.51 247.34 1108.66 249.05 1106.73 250.75 1104.74 252.46 1102.68 254.16 1100.56 255.87 1098.38 257.57 1096.15 259.28 1093.86 260.98 1091.52 262.69 1089.13 264.39 1086.69 266.1 1084.21 267.8 1081.69 269.51 1079.13 271.21 1076.53 272.92 1073.9 274.63 1071.23 276.33 1068.53 278.04 1065.81 279.74 1063.06 281.45 1060.29 283.15 1057.49 284.86 1054.67 286.56 1051.84 288.27 1048.99 289.97 1046.13 291.68 1043.26 293.38 1040.38 295.09 1037.49 296.79 1034.6 298.5 1031.7 300.2 1028.81 301.91 1025.91 303.61 1023.01 305.32 1020.12 307.02 1017.24 308.73 1014.36 310.43 1011.49 312.14 1008.64 313.84 1005.8 315.55 1002.97 317.25 1000.16 318.96 997.36 320.66 994.59 322.37 991.84 324.07 989.11 325.78 986.4 327.48 983.72 329.19 981.07 330.89 978.44 332.6 975.85 334.3 973.29 336.01 970.76 337.71 968.26 339.42 965.8 341.12 963.38 342.83 960.99 344.54 958.65 346.24 956.34 347.95 954.08 349.65 951.86 351.36 949.69 353.06 947.56 354.77 945.47 356.47 943.44 358.18 941.45 359.88 939.51 361.59 937.63 363.29 935.79 365 934.01 366.7 932.28 368.41 930.61 370.11 928.99 371.82 927.42 373.52 925.92 375.23 924.47 376.93 923.08 378.64 921.75 380.34 920.47 382.05 919.26 383.75 918.12 385.46 917.03 387.16 916 388.87 915.04 390.57 914.15 392.28 913.31 393.98 912.55 395.69 911.85 397.39 911.21 399.1 910.64 400.8 910.14 402.51 909.7 404.21 909.33 405.92 909.03 407.62 908.8 409.33 908.64 411.03 908.54 412.74 908.52 414.44 908.56 416.15 908.67 417.86 908.86 419.56 909.11 421.27 909.43 422.97 909.82 424.68 910.29 426.38 910.82 428.09 911.42 429.79 912.1 431.5 912.84 433.2 913.66 434.91 914.54 436.61 915.49 438.32 916.52 440.02 917.61 441.73 918.77 443.43 920.01 445.14 921.31 446.84 922.68 448.55 924.12 450.25 925.63 451.96 927.2 453.66 928.84 455.37 930.55 457.07 932.33 458.78 934.17 460.48 936.08 462.19 938.06 463.89 940.1 465.6 942.2 467.3 944.37 469.01 946.6 470.71 948.89 472.42 951.25 474.12 953.67 475.83 956.15 477.53 958.68 479.24 961.28 480.94 963.94 482.65 966.65 484.35 969.42 486.06 972.25 487.76 975.13 489.47 978.07 491.18 981.06 492.88 984.1 494.59 987.2 496.29 990.34 498 993.54 499.7 996.78 501.41 1000.07 503.11 1003.41 504.82 1006.8 506.52 1010.22 508.23 1013.69 509.93 1017.21 511.64 1020.76 513.34 1024.35 515.05 1027.98 516.75 1031.65 518.46 1035.36 520.16 1039.09 521.87 1042.86 523.57 1046.67 525.28 1050.5 526.98 1054.36 528.69 1058.25 530.39 1062.17 532.1 1066.11 533.8 1070.07 535.51 1074.05 537.21 1078.05 538.92 1082.08 540.62 1086.11 542.33 1090.17 544.03 1094.23 545.74 1098.31 547.44 1102.39 549.15 1106.49 550.85 1110.59 552.56 1114.69 554.26 1118.8 555.97 1122.91 557.67 1127.02 559.38 1131.12 561.09 1135.22 562.79 1139.31 564.5 1143.39 566.2 1147.47 567.91 1151.52 569.61 1155.57 571.32 1159.59 573.02 1163.6 574.73 1167.59 576.43 1171.55 578.14 1175.48 579.84 1179.39 581.55 1183.27" stroke="#00f" stroke-width="4.000" fill="none" stroke-linecap="square" stroke-linejoin="round"/>
<g fill="#f00"><circle cx="104.5" cy="741.5" r="9.333"/><circle cx="157.5" cy="956.5" r="9.333"/><circle cx="210.5" cy="1157.5" r="9.333"/><circle cx="263.5" cy="1132.5" r="9.333"/><circle cx="316.5" cy="1026.5" r="9.333"/><circle cx="369.5" cy="893.5" r="9.333"/><circle cx="422.5" cy="872.5" r="9.333"/><circle cx="475.5" cy="952.5" r="9.333"/><circle cx="528.5" cy="1117.5" r="9.333"/><circle cx="582.5" cy="1158.5" r="9.333"/></g>
<rect x="80" y="685" width="525" height="522" fill="none" stroke="#000" stroke-width="2.133"/>
<g font-size="26.667" text-anchor="end">
<text x="61.85" y="1187.84">0.2</text>
<text x="61.62" y="1124.79">0.3</text>
<text x="61.92" y="1062.77">0.4</text>
<text x="61.75" y="1000.74">0.5</text>
<text x="61.86" y="938.84">0.6</text>
<text x="61.85" y="876.85">0.7</text>
<text x="61.71" y="814.72">0.8</text>
<text x="61.86" y="751.70">0.9</text>
</g><g font-size="26.667" text-anchor="middle">
<text x="240.60" y="1245.74">0.5</text>
<text x="411.59" y="1245.80">1.0</text>
<text x="581.48" y="1245.82">1.5</text>
</g>
<text font-size="32.000" text-anchor="middle" x="343.38" y="668.92">M= 4</text>
</g>
<g>
<path d="M871 685 V1207 M1041 685 V1207 M1212 685 V1207 M710 1178 H1236 M710 1112 H1236 M710 1046 H1236 M710 980 H1236 M710 914 H1236 M710 847 H1236 M710 781 H1236 M710 715 H1236" stroke="#b0b0b0" stroke-width="2.133" fill="none"/>
<path d="M871 1207 v9 M1041 1207 v9 M1212 1207 v9 M710 1178 h-9 M710 1112 h-9 M710 1046 h-9 M710 980 h-9 M710 914 h-9 M710 847 h-9 M710 781 h-9 M710 715 h-9" stroke="#000" stroke-width="2.133" fill="none"/>
<path d="M734.33 845.82 736.03 848.95 737.74 852.2 739.44 855.58 741.15 859.08 742.85 862.7 744.56 866.43 746.26 870.28 747.97 874.23 749.67 878.29 751.38 882.45 753.08 886.71 754.79 891.06 756.49 895.49 758.2 900.01 759.9 904.61 761.61 909.28 763.31 914.02 765.02 918.82 766.72 923.69 768.43 928.61 770.13 933.58 771.84 938.6 773.54 943.66 775.25 948.75 776.95 953.87 778.66 959.02 780.36 964.19 782.07 969.38 783.77 974.58 785.48 979.78 787.18 984.98 788.89 990.17 790.59 995.36 792.3 1000.53 794 1005.68 795.71 1010.8 797.41 1015.9 799.12 1020.95 800.82 1025.97 802.53 1030.94 804.23 1035.86 805.94 1040.73 807.65 1045.53 809.35 1050.28 811.06 1054.95 812.76 1059.54 814.47 1064.06 816.17 1068.5 817.88 1072.84 819.58 1077.1 821.29 1081.26 822.99 1085.32 824.7 1089.27 826.4 1093.12 828.11 1096.86 829.81 1100.48 831.52 1103.98 833.22 1107.35 834.93 1110.61 836.63 1113.73 838.34 1116.72 840.04 1119.58 841.75 1122.29 843.45 1124.87 845.16 1127.31 846.86 1129.59 848.57 1131.73 850.27 1133.73 851.98 1135.56 853.68 1137.25 855.39 1138.78 857.09 1140.15 858.8 1141.36 860.5 1142.42 862.21 1143.31 863.91 1144.05 865.62 1144.62 867.32 1145.03 869.03 1145.27 870.73 1145.35 872.44 1145.27 874.14 1145.03 875.85 1144.62 877.56 1144.05 879.26 1143.31 880.97 1142.42 882.67 1141.36 884.38 1140.15 886.08 1138.78 887.79 1137.25 889.49 1135.56 891.2 1133.73 892.9 1131.73 894.61 1129.59 896.31 1127.31 898.02 1124.87 899.72 1122.29 901.43 1119.58 903.13 1116.72 904.84 1113.73 906.54 1110.61 908.25 1107.35 909.95 1103.98 911.66 1100.48 913.36 1096.86 915.07 1093.12 916.77 1089.27 918.48 1085.32 920.18 1081.26 921.89 1077.1 923.59 1072.84 925.3 1068.5 927 1064.06 928.71 1059.54 930.41 1054.95 932.12 1050.28 933.82 1045.53 935.53 1040.73 937.23 1035.86 938.94 1030.94 940.64 1025.97 942.35 1020.95 944.05 1015.9 945.76 1010.8 947.46 1005.68 949.17 1000.53 950.88 995.36 952.58 990.17 954.29 984.98 955.99 979.78 957.7 974.58 959.4 969.38 961.11 964.19 962.81 959.02 964.52 953.87 966.22 948.75 967.93 943.66 969.63 938.6 971.34 933.58 973.04 928.61 974.75 923.69 976.45 918.82 978.16 914.02 979.86 909.28 981.57 904.61 983.27 900.01 984.98 895.49 986.68 891.06 988.39 886.71 990.09 882.45 991.8 878.29 993.5 874.23 995.21 870.28 996.91 866.43 998.62 862.7 1000.32 859.08 1002.03 855.58 1003.73 852.2 1005.44 848.95 1007.14 845.82 1008.85 842.83 1010.55 839.98 1012.26 837.26 1013.96 834.68 1015.67 832.25 1017.37 829.96 1019.08 827.82 1020.78 825.83 1022.49 823.99 1024.2 822.3 1025.9 820.77 1027.61 819.4 1029.31 818.19 1031.02 817.13 1032.72 816.24 1034.43 815.51 1036.13 814.94 1037.84 814.53 1039.54 814.28 1041.25 814.2 1042.95 814.28 1044.66 814.53 1046.36 814.94 1048.07 815.51 1049.77 816.24 1051.48 817.13 1053.18 818.19 1054.89 819.4 1056.59 820.77 1058.3 822.3 1060 823.99 1061.71 825.83 1063.41 827.82 1065.12 829.96 1066.82 832.25 1068.53 834.68 1070.23 837.26 1071.94 839.98 1073.64 842.83 1075.35 845.82 1077.05 848.95 1078.76 852.2 1080.46 855.58 1082.17 859.08 1083.87 862.7 1085.58 866.43 1087.28 870.28 1088.99 874.23 1090.69 878.29 1092.4 882.45 1094.11 886.71 1095.81 891.06 1097.52 895.49 1099.22 900.01 1100.93 904.61 1102.63 909.28 1104.34 914.02 1106.04 918.82 1107.75 923.69 1109.45 928.61 1111.16 933.58 1112.86 938.6 1114.57 943.66 1116.27 948.75 1117.98 953.87 1119.68 959.02 1121.39 964.19 1123.09 969.38 1124.8 974.58 1126.5 979.78 1128.21 984.98 1129.91 990.17 1131.62 995.36 1133.32 1000.53 1135.03 1005.68 1136.73 1010.8 1138.44 1015.9 1140.14 1020.95 1141.85 1025.97 1143.55 1030.94 1145.26 1035.86 1146.96 1040.73 1148.67 1045.53 1150.37 1050.28 1152.08 1054.95 1153.78 1059.54 1155.49 1064.06 1157.19 1068.5 1158.9 1072.84 1160.6 1077.1 1162.31 1081.26 1164.01 1085.32 1165.72 1089.27 1167.43 1093.12 1169.13 1096.86 1170.84 1100.48 1172.54 1103.98 1174.25 1107.35 1175.95 1110.61 1177.66 1113.73 1179.36 1116.72 1181.07 1119.58 1182.77 1122.29 1184.48 1124.87 1186.18 1127.31 1187.89 1129.59 1189.59 1131.73 1191.3 1133.73 1193 1135.56 1194.71 1137.25 1196.41 1138.78 1198.12 1140.15 1199.82 1141.36 1201.53 1142.42 1203.23 1143.31 1204.94 1144.05 1206.64 1144.62 1208.35 1145.03 1210.05 1145.27 1211.76 1145.35" stroke="#000" stroke-width="4.000" fill="none" stroke-linecap="square" stroke-linejoin="round"/>
<path d="M734.33 708.92 736.03 716.16 737.74 723.56 739.44 731.1 741.15 738.78 742.85 746.57 744.56 754.48 746.26 762.49 747.97 770.58 749.67 778.76 751.38 787 753.08 795.29 754.79 803.64 756.49 812.03 758.2 820.44 759.9 828.88 761.61 837.32 763.31 845.77 765.02 854.22 766.72 862.65 768.43 871.06 770.13 879.44 771.84 887.78 773.54 896.08 775.25 904.33 776.95 912.53 778.66 920.66 780.36 928.71 782.07 936.7 783.77 944.59 785.48 952.41 787.18 960.12 788.89 967.74 790.59 975.25 792.3 982.65 794 989.94 795.71 997.11 797.41 1004.16 799.12 1011.08 800.82 1017.86 802.53 1024.52 804.23 1031.03 805.94 1037.4 807.65 1043.62 809.35 1049.69 811.06 1055.61 812.76 1061.38 814.47 1066.98 816.17 1072.43 817.88 1077.71 819.58 1082.83 821.29 1087.78 822.99 1092.57 824.7 1097.18 826.4 1101.62 828.11 1105.88 829.81 1109.97 831.52 1113.89 833.22 1117.63 834.93 1121.19 836.63 1124.57 838.34 1127.77 840.04 1130.79 841.75 1133.63 843.45 1136.29 845.16 1138.77 846.86 1141.07 848.57 1143.2 850.27 1145.14 851.98 1146.9 853.68 1148.48 855.39 1149.89 857.09 1151.12 858.8 1152.17 860.5 1153.05 862.21 1153.76 863.91 1154.29 865.62 1154.65 867.32 1154.84 869.03 1154.86 870.73 1154.72 872.44 1154.41 874.14 1153.94 875.85 1153.31 877.56 1152.51 879.26 1151.57 880.97 1150.46 882.67 1149.21 884.38 1147.8 886.08 1146.25 887.79 1144.55 889.49 1142.71 891.2 1140.73 892.9 1138.62 894.61 1136.37 896.31 1133.99 898.02 1131.48 899.72 1128.84 901.43 1126.09 903.13 1123.21 904.84 1120.22 906.54 1117.12 908.25 1113.91 909.95 1110.59 911.66 1107.17 913.36 1103.65 915.07 1100.04 916.77 1096.34 918.48 1092.54 920.18 1088.67 921.89 1084.71 923.59 1080.68 925.3 1076.57 927 1072.39 928.71 1068.15 930.41 1063.85 932.12 1059.49 933.82 1055.07 935.53 1050.61 937.23 1046.1 938.94 1041.55 940.64 1036.96 942.35 1032.34 944.05 1027.68 945.76 1023 947.46 1018.3 949.17 1013.58 950.88 1008.85 952.58 1004.11 954.29 999.36 955.99 994.61 957.7 989.86 959.4 985.12 961.11 980.39 962.81 975.68 964.52 970.98 966.22 966.31 967.93 961.66 969.63 957.04 971.34 952.46 973.04 947.91 974.75 943.41 976.45 938.95 978.16 934.54 979.86 930.19 981.57 925.89 983.27 921.65 984.98 917.48 986.68 913.38 988.39 909.35 990.09 905.39 991.8 901.51 993.5 897.72 995.21 894.01 996.91 890.39 998.62 886.86 1000.32 883.43 1002.03 880.1 1003.73 876.87 1005.44 873.75 1007.14 870.73 1008.85 867.83 1010.55 865.04 1012.26 862.36 1013.96 859.81 1015.67 857.38 1017.37 855.07 1019.08 852.89 1020.78 850.85 1022.49 848.93 1024.2 847.15 1025.9 845.5 1027.61 844 1029.31 842.63 1031.02 841.41 1032.72 840.33 1034.43 839.4 1036.13 838.62 1037.84 837.98 1039.54 837.5 1041.25 837.17 1042.95 836.99 1044.66 836.97 1046.36 837.11 1048.07 837.4 1049.77 837.84 1051.48 838.45 1053.18 839.21 1054.89 840.14 1056.59 841.22 1058.3 842.46 1060 843.86 1061.71 845.42 1063.41 847.14 1065.12 849.02 1066.82 851.06 1068.53 853.26 1070.23 855.61 1071.94 858.12 1073.64 860.78 1075.35 863.6 1077.05 866.57 1078.76 869.69 1080.46 872.96 1082.17 876.38 1083.87 879.94 1085.58 883.65 1087.28 887.5 1088.99 891.49 1090.69 895.62 1092.4 899.88 1094.11 904.27 1095.81 908.78 1097.52 913.43 1099.22 918.19 1100.93 923.07 1102.63 928.07 1104.34 933.17 1106.04 938.38 1107.75 943.69 1109.45 949.1 1111.16 954.6 1112.86 960.19 1114.57 965.86 1116.27 971.61 1117.98 977.43 1119.68 983.32 1121.39 989.26 1123.09 995.26 1124.8 1001.31 1126.5 1007.4 1128.21 1013.52 1129.91 1019.67 1131.62 1025.84 1133.32 1032.03 1135.03 1038.22 1136.73 1044.41 1138.44 1050.59 1140.14 1056.75 1141.85 1062.89 1143.55 1068.99 1145.26 1075.04 1146.96 1081.05 1148.67 1086.99 1150.37 1092.86 1152.08 1098.64 1153.78 1104.34 1155.49 1109.93 1157.19 1115.42 1158.9 1120.77 1160.6 1126 1162.31 1131.08 1164.01 1136 1165.72 1140.75 1167.43 1145.32 1169.13 1149.7 1170.84 1153.88 1172.54 1157.83 1174.25 1161.56 1175.95 1165.04 1177.66 1168.26 1179.36 1171.21 1181.07 1173.88 1182.77 1176.24 1184.48 1178.29 1186.18 1180.01 1187.89 1181.38 1189.59 1182.39 1191.3 1183.03 1193 1183.27 1194.71 1183.1 1196.41 1182.51 1198.12 1181.48 1199.82 1179.98 1201.53 1178.01 1203.23 1175.55 1204.94 1172.57 1206.64 1169.06 1208.35 1165 1210.05 1160.37 1211.76 1155.15" stroke="#00f" stroke-width="4.000" fill="none" stroke-linecap="square" stroke-linejoin="round"/>
<g fill="#f00"><circle cx="734.5" cy="713.5" r="9.333"/><circle cx="787.5" cy="942.5" r="9.333"/><circle cx="840.5" cy="1157.5" r="9.333"/><circle cx="893.5" cy="1130.5" r="9.333"/><circle cx="947.5" cy="1017.5" r="9.333"/><circle cx="1000.5" cy="875.5" r="9.333"/><circle cx="1053.5" cy="853.5" r="9.333"/><circle cx="1106.5" cy="938.5" r="9.333"/><circle cx="1159.5" cy="1114.5" r="9.333"/><circle cx="1212.5" cy="1157.5" r="9.333"/></g>
<rect x="710" y="685" width="526" height="522" fill="none" stroke="#000" stroke-width="2.133"/>
<g font-size="26.667" text-anchor="end">
<text x="691.85" y="1188.84">0.2</text>
<text x="691.62" y="1121.79">0.3</text>
<text x="691.92" y="1055.77">0.4</text>
<text x="691.75" y="989.74">0.5</text>
<text x="691.86" y="923.84">0.6</text>
<text x="691.85" y="856.85">0.7</text>
<text x="691.71" y="790.72">0.8</text>
<text x="691.86" y="724.70">0.9</text>
</g><g font-size="26.667" text-anchor="middle">
<text x="870.60" y="1245.74">0.5</text>
<text x="1041.59" y="1245.80">1.0</text>
<text x="1211.48" y="1245.82">1.5</text>
</g>
<text font-size="32.000" text-anchor="middle" x="973.10" y="668.78">M= 5</text>
</g>
<g>
<path d="M1501 685 V1207 M1671 685 V1207 M1842 685 V1207 M1341 1194 H1866 M1341 1125 H1866 M1341 1056 H1866 M1341 987 H1866 M1341 919 H1866 M1341 850 H1866 M1341 781 H1866 M1341 712 H1866" stroke="#b0b0b0" stroke-width="2.133" fill="none"/>
<path d="M1501 1207 v9 M1671 1207 v9 M1842 1207 v9 M1341 1194 h-9 M1341 1125 h-9 M1341 1056 h-9 M1341 987 h-9 M1341 919 h-9 M1341 850 h-9 M1341 781 h-9 M1341 712 h-9" stroke="#000" stroke-width="2.133" fill="none"/>
<path d="M1364.54 848.07 1366.24 851.32 1367.95 854.71 1369.65 858.22 1371.36 861.87 1373.06 865.63 1374.77 869.52 1376.47 873.52 1378.18 877.64 1379.88 881.87 1381.59 886.19 1383.29 890.62 1385 895.15 1386.7 899.76 1388.41 904.47 1390.11 909.25 1391.82 914.11 1393.52 919.04 1395.23 924.05 1396.93 929.11 1398.64 934.23 1400.34 939.41 1402.05 944.63 1403.75 949.89 1405.46 955.19 1407.16 960.52 1408.87 965.88 1410.58 971.26 1412.28 976.66 1413.99 982.07 1415.69 987.48 1417.4 992.89 1419.1 998.3 1420.81 1003.7 1422.51 1009.08 1424.22 1014.44 1425.92 1019.77 1427.63 1025.07 1429.33 1030.33 1431.04 1035.56 1432.74 1040.73 1434.45 1045.85 1436.15 1050.91 1437.86 1055.92 1439.56 1060.85 1441.27 1065.71 1442.97 1070.49 1444.68 1075.2 1446.38 1079.81 1448.09 1084.34 1449.79 1088.77 1451.5 1093.09 1453.2 1097.32 1454.91 1101.44 1456.61 1105.44 1458.32 1109.33 1460.02 1113.09 1461.73 1116.74 1463.43 1120.25 1465.14 1123.64 1466.84 1126.89 1468.55 1130 1470.25 1132.97 1471.96 1135.8 1473.66 1138.48 1475.37 1141.02 1477.07 1143.4 1478.78 1145.63 1480.48 1147.7 1482.19 1149.61 1483.9 1151.36 1485.6 1152.96 1487.31 1154.38 1489.01 1155.65 1490.72 1156.75 1492.42 1157.68 1494.13 1158.44 1495.83 1159.03 1497.54 1159.46 1499.24 1159.71 1500.95 1159.8 1502.65 1159.71 1504.36 1159.46 1506.06 1159.03 1507.77 1158.44 1509.47 1157.68 1511.18 1156.75 1512.88 1155.65 1514.59 1154.38 1516.29 1152.96 1518 1151.36 1519.7 1149.61 1521.41 1147.7 1523.11 1145.63 1524.82 1143.4 1526.52 1141.02 1528.23 1138.48 1529.93 1135.8 1531.64 1132.97 1533.34 1130 1535.05 1126.89 1536.75 1123.64 1538.46 1120.25 1540.16 1116.74 1541.87 1113.09 1543.57 1109.33 1545.28 1105.44 1546.98 1101.44 1548.69 1097.32 1550.39 1093.09 1552.1 1088.77 1553.8 1084.34 1555.51 1079.81 1557.22 1075.2 1558.92 1070.49 1560.63 1065.71 1562.33 1060.85 1564.04 1055.92 1565.74 1050.91 1567.45 1045.85 1569.15 1040.73 1570.86 1035.56 1572.56 1030.33 1574.27 1025.07 1575.97 1019.77 1577.68 1014.44 1579.38 1009.08 1581.09 1003.7 1582.79 998.3 1584.5 992.89 1586.2 987.48 1587.91 982.07 1589.61 976.66 1591.32 971.26 1593.02 965.88 1594.73 960.52 1596.43 955.19 1598.14 949.89 1599.84 944.63 1601.55 939.41 1603.25 934.23 1604.96 929.11 1606.66 924.05 1608.37 919.04 1610.07 914.11 1611.78 909.25 1613.48 904.47 1615.19 899.76 1616.89 895.15 1618.6 890.62 1620.3 886.19 1622.01 881.87 1623.71 877.64 1625.42 873.52 1627.13 869.52 1628.83 865.63 1630.54 861.87 1632.24 858.22 1633.95 854.71 1635.65 851.32 1637.36 848.07 1639.06 844.96 1640.77 841.99 1642.47 839.16 1644.18 836.48 1645.88 833.94 1647.59 831.56 1649.29 829.34 1651 827.26 1652.7 825.35 1654.41 823.6 1656.11 822.01 1657.82 820.58 1659.52 819.31 1661.23 818.22 1662.93 817.28 1664.64 816.52 1666.34 815.93 1668.05 815.5 1669.75 815.25 1671.46 815.16 1673.16 815.25 1674.87 815.5 1676.57 815.93 1678.28 816.52 1679.98 817.28 1681.69 818.22 1683.39 819.31 1685.1 820.58 1686.8 822.01 1688.51 823.6 1690.21 825.35 1691.92 827.26 1693.62 829.34 1695.33 831.56 1697.03 833.94 1698.74 836.48 1700.45 839.16 1702.15 841.99 1703.86 844.96 1705.56 848.07 1707.27 851.32 1708.97 854.71 1710.68 858.22 1712.38 861.87 1714.09 865.63 1715.79 869.52 1717.5 873.52 1719.2 877.64 1720.91 881.87 1722.61 886.19 1724.32 890.62 1726.02 895.15 1727.73 899.76 1729.43 904.47 1731.14 909.25 1732.84 914.11 1734.55 919.04 1736.25 924.05 1737.96 929.11 1739.66 934.23 1741.37 939.41 1743.07 944.63 1744.78 949.89 1746.48 955.19 1748.19 960.52 1749.89 965.88 1751.6 971.26 1753.3 976.66 1755.01 982.07 1756.71 987.48 1758.42 992.89 1760.12 998.3 1761.83 1003.7 1763.53 1009.08 1765.24 1014.44 1766.94 1019.77 1768.65 1025.07 1770.36 1030.33 1772.06 1035.56 1773.77 1040.73 1775.47 1045.85 1777.18 1050.91 1778.88 1055.92 1780.59 1060.85 1782.29 1065.71 1784 1070.49 1785.7 1075.2 1787.41 1079.81 1789.11 1084.34 1790.82 1088.77 1792.52 1093.09 1794.23 1097.32 1795.93 1101.44 1797.64 1105.44 1799.34 1109.33 1801.05 1113.09 1802.75 1116.74 1804.46 1120.25 1806.16 1123.64 1807.87 1126.89 1809.57 1130 1811.28 1132.97 1812.98 1135.8 1814.69 1138.48 1816.39 1141.02 1818.1 1143.4 1819.8 1145.63 1821.51 1147.7 1823.21 1149.61 1824.92 1151.36 1826.62 1152.96 1828.33 1154.38 1830.03 1155.65 1831.74 1156.75 1833.44 1157.68 1835.15 1158.44 1836.85 1159.03 1838.56 1159.46 1840.26 1159.71 1841.97 1159.8" stroke="#000" stroke-width="4.000" fill="none" stroke-linecap="square" stroke-linejoin="round"/>
<path d="M1364.54 708.92 1366.24 713.42 1367.95 718.36 1369.65 723.7 1371.36 729.42 1373.06 735.5 1374.77 741.91 1376.47 748.63 1378.18 755.65 1379.88 762.93 1381.59 770.45 1383.29 778.21 1385 786.17 1386.7 794.32 1388.41 802.65 1390.11 811.12 1391.82 819.73 1393.52 828.46 1395.23 837.29 1396.93 846.21 1398.64 855.19 1400.34 864.23 1402.05 873.32 1403.75 882.43 1405.46 891.55 1407.16 900.67 1408.87 909.78 1410.58 918.87 1412.28 927.92 1413.99 936.92 1415.69 945.87 1417.4 954.74 1419.1 963.54 1420.81 972.25 1422.51 980.86 1424.22 989.36 1425.92 997.75 1427.63 1006.01 1429.33 1014.14 1431.04 1022.14 1432.74 1029.98 1434.45 1037.68 1436.15 1045.22 1437.86 1052.59 1439.56 1059.79 1441.27 1066.81 1442.97 1073.66 1444.68 1080.32 1446.38 1086.79 1448.09 1093.06 1449.79 1099.14 1451.5 1105.02 1453.2 1110.69 1454.91 1116.15 1456.61 1121.41 1458.32 1126.45 1460.02 1131.28 1461.73 1135.89 1463.43 1140.28 1465.14 1144.45 1466.84 1148.41 1468.55 1152.14 1470.25 1155.64 1471.96 1158.93 1473.66 1161.99 1475.37 1164.83 1477.07 1167.45 1478.78 1169.85 1480.48 1172.02 1482.19 1173.97 1483.9 1175.71 1485.6 1177.22 1487.31 1178.52 1489.01 1179.6 1490.72 1180.46 1492.42 1181.12 1494.13 1181.56 1495.83 1181.8 1497.54 1181.83 1499.24 1181.66 1500.95 1181.29 1502.65 1180.71 1504.36 1179.95 1506.06 1178.99 1507.77 1177.84 1509.47 1176.51 1511.18 1175 1512.88 1173.3 1514.59 1171.44 1516.29 1169.4 1518 1167.19 1519.7 1164.82 1521.41 1162.29 1523.11 1159.6 1524.82 1156.76 1526.52 1153.78 1528.23 1150.65 1529.93 1147.38 1531.64 1143.98 1533.34 1140.44 1535.05 1136.78 1536.75 1133.01 1538.46 1129.11 1540.16 1125.1 1541.87 1120.99 1543.57 1116.77 1545.28 1112.46 1546.98 1108.06 1548.69 1103.56 1550.39 1098.99 1552.1 1094.33 1553.8 1089.61 1555.51 1084.81 1557.22 1079.95 1558.92 1075.04 1560.63 1070.07 1562.33 1065.05 1564.04 1059.99 1565.74 1054.89 1567.45 1049.75 1569.15 1044.59 1570.86 1039.41 1572.56 1034.2 1574.27 1028.98 1575.97 1023.76 1577.68 1018.53 1579.38 1013.29 1581.09 1008.07 1582.79 1002.85 1584.5 997.65 1586.2 992.47 1587.91 987.31 1589.61 982.19 1591.32 977.09 1593.02 972.03 1594.73 967.01 1596.43 962.04 1598.14 957.12 1599.84 952.26 1601.55 947.45 1603.25 942.71 1604.96 938.04 1606.66 933.43 1608.37 928.9 1610.07 924.45 1611.78 920.09 1613.48 915.81 1615.19 911.61 1616.89 907.52 1618.6 903.52 1620.3 899.62 1622.01 895.82 1623.71 892.13 1625.42 888.55 1627.13 885.09 1628.83 881.74 1630.54 878.5 1632.24 875.39 1633.95 872.41 1635.65 869.55 1637.36 866.82 1639.06 864.22 1640.77 861.76 1642.47 859.43 1644.18 857.24 1645.88 855.19 1647.59 853.28 1649.29 851.52 1651 849.9 1652.7 848.42 1654.41 847.1 1656.11 845.92 1657.82 844.9 1659.52 844.02 1661.23 843.3 1662.93 842.73 1664.64 842.32 1666.34 842.06 1668.05 841.95 1669.75 842 1671.46 842.21 1673.16 842.57 1674.87 843.09 1676.57 843.76 1678.28 844.59 1679.98 845.58 1681.69 846.72 1683.39 848.01 1685.1 849.45 1686.8 851.05 1688.51 852.8 1690.21 854.7 1691.92 856.75 1693.62 858.94 1695.33 861.29 1697.03 863.77 1698.74 866.4 1700.45 869.17 1702.15 872.08 1703.86 875.13 1705.56 878.31 1707.27 881.63 1708.97 885.07 1710.68 888.64 1712.38 892.34 1714.09 896.16 1715.79 900.1 1717.5 904.15 1719.2 908.32 1720.91 912.59 1722.61 916.98 1724.32 921.46 1726.02 926.04 1727.73 930.72 1729.43 935.49 1731.14 940.35 1732.84 945.29 1734.55 950.31 1736.25 955.4 1737.96 960.57 1739.66 965.8 1741.37 971.09 1743.07 976.44 1744.78 981.84 1746.48 987.28 1748.19 992.77 1749.89 998.29 1751.6 1003.84 1753.3 1009.42 1755.01 1015.02 1756.71 1020.64 1758.42 1026.26 1760.12 1031.88 1761.83 1037.5 1763.53 1043.12 1765.24 1048.72 1766.94 1054.29 1768.65 1059.84 1770.36 1065.36 1772.06 1070.84 1773.77 1076.27 1775.47 1081.64 1777.18 1086.96 1778.88 1092.21 1780.59 1097.39 1782.29 1102.48 1784 1107.5 1785.7 1112.41 1787.41 1117.23 1789.11 1121.94 1790.82 1126.53 1792.52 1131 1794.23 1135.34 1795.93 1139.54 1797.64 1143.6 1799.34 1147.51 1801.05 1151.25 1802.75 1154.83 1804.46 1158.24 1806.16 1161.46 1807.87 1164.5 1809.57 1167.33 1811.28 1169.96 1812.98 1172.38 1814.69 1174.58 1816.39 1176.55 1818.1 1178.28 1819.8 1179.77 1821.51 1181 1823.21 1181.98 1824.92 1182.69 1826.62 1183.12 1828.33 1183.27 1830.03 1183.13 1831.74 1182.69 1833.44 1181.94 1835.15 1180.87 1836.85 1179.49 1838.56 1177.77 1840.26 1175.72 1841.97 1173.31" stroke="#00f" stroke-width="4.000" fill="none" stroke-linecap="square" stroke-linejoin="round"/>
<g fill="#f00"><circle cx="1365.5" cy="710.5" r="9.333"/><circle cx="1418.5" cy="949.5" r="9.333"/><circle cx="1471.5" cy="1172.5" r="9.333"/><circle cx="1524.5" cy="1144.5" r="9.333"/><circle cx="1577.5" cy="1026.5" r="9.333"/><circle cx="1630.5" cy="879.5" r="9.333"/><circle cx="1683.5" cy="856.5" r="9.333"/><circle cx="1736.5" cy="944.5" r="9.333"/><circle cx="1789.5" cy="1127.5" r="9.333"/><circle cx="1842.5" cy="1172.5" r="9.333"/></g>
<rect x="1341" y="685" width="525" height="522" fill="none" stroke="#000" stroke-width="2.133"/>
<g font-size="26.667" text-anchor="end">
<text x="1321.85" y="1203.84">0.2</text>
<text x="1321.62" y="1134.79">0.3</text>
<text x="1321.92" y="1066.77">0.4</text>
<text x="1321.75" y="997.74">0.5</text>
<text x="1321.86" y="928.84">0.6</text>
<text x="1321.85" y="859.85">0.7</text>
<text x="1321.71" y="790.72">0.8</text>
<text x="1321.86" y="721.70">0.9</text>
</g><g font-size="26.667" text-anchor="middle">
<text x="1501.60" y="1245.74">0.5</text>
<text x="1671.59" y="1245.80">1.0</text>
<text x="1842.48" y="1245.82">1.5</text>
</g>
<text font-size="32.000" text-anchor="middle" x="1603.13" y="668.93">M= 6</text>
</g>
<g>
<path d="M241 1311 V1833 M411 1311 V1833 M582 1311 V1833 M80 1801 H605 M80 1734 H605 M80 1668 H605 M80 1602 H605 M80 1536 H605 M80 1469 H605 M80 1403 H605 M80 1337 H605" stroke="#b0b0b0" stroke-width="2.133" fill="none"/>
<path d="M241 1833 v9 M411 1833 v9 M582 1833 v9 M80 1801 h-9 M80 1734 h-9 M80 1668 h-9 M80 1602 h-9 M80 1536 h-9 M80 1469 h-9 M80 1403 h-9 M80 1337 h-9" stroke="#000" stroke-width="2.133" fill="none"/>
<path d="M104.11 1467.85 105.82 1470.98 107.52 1474.23 109.23 1477.61 110.93 1481.12 112.64 1484.74 114.34 1488.48 116.05 1492.33 117.75 1496.29 119.46 1500.35 121.16 1504.51 122.87 1508.77 124.57 1513.12 126.28 1517.56 127.98 1522.08 129.69 1526.68 131.4 1531.36 133.1 1536.1 134.81 1540.91 136.51 1545.78 138.22 1550.71 139.92 1555.68 141.63 1560.7 143.33 1565.76 145.04 1570.86 146.74 1575.99 148.45 1581.14 150.15 1586.32 151.86 1591.51 153.56 1596.71 155.27 1601.91 156.97 1607.12 158.68 1612.32 160.38 1617.51 162.09 1622.68 163.79 1627.83 165.5 1632.96 167.2 1638.06 168.91 1643.12 170.61 1648.14 172.32 1653.12 174.02 1658.04 175.73 1662.91 177.43 1667.72 179.14 1672.47 180.84 1677.14 182.55 1681.74 184.25 1686.26 185.96 1690.7 187.66 1695.05 189.37 1699.31 191.07 1703.48 192.78 1707.54 194.48 1711.5 196.19 1715.35 197.89 1719.09 199.6 1722.71 201.31 1726.21 203.01 1729.59 204.72 1732.85 206.42 1735.97 208.13 1738.97 209.83 1741.82 211.54 1744.54 213.24 1747.12 214.95 1749.56 216.65 1751.85 218.36 1753.99 220.06 1755.98 221.77 1757.82 223.47 1759.51 225.18 1761.04 226.88 1762.41 228.59 1763.63 230.29 1764.69 232 1765.58 233.7 1766.31 235.41 1766.89 237.11 1767.29 238.82 1767.54 240.52 1767.62 242.23 1767.54 243.93 1767.29 245.64 1766.89 247.34 1766.31 249.05 1765.58 250.75 1764.69 252.46 1763.63 254.16 1762.41 255.87 1761.04 257.57 1759.51 259.28 1757.82 260.98 1755.98 262.69 1753.99 264.39 1751.85 266.1 1749.56 267.8 1747.12 269.51 1744.54 271.21 1741.82 272.92 1738.97 274.63 1735.97 276.33 1732.85 278.04 1729.59 279.74 1726.21 281.45 1722.71 283.15 1719.09 284.86 1715.35 286.56 1711.5 288.27 1707.54 289.97 1703.48 291.68 1699.31 293.38 1695.05 295.09 1690.7 296.79 1686.26 298.5 1681.74 300.2 1677.14 301.91 1672.47 303.61 1667.72 305.32 1662.91 307.02 1658.04 308.73 1653.12 310.43 1648.14 312.14 1643.12 313.84 1638.06 315.55 1632.96 317.25 1627.83 318.96 1622.68 320.66 1617.51 322.37 1612.32 324.07 1607.12 325.78 1601.91 327.48 1596.71 329.19 1591.51 330.89 1586.32 332.6 1581.14 334.3 1575.99 336.01 1570.86 337.71 1565.76 339.42 1560.7 341.12 1555.68 342.83 1550.71 344.54 1545.78 346.24 1540.91 347.95 1536.1 349.65 1531.36 351.36 1526.68 353.06 1522.08 354.77 1517.56 356.47 1513.12 358.18 1508.77 359.88 1504.51 361.59 1500.35 363.29 1496.29 365 1492.33 366.7 1488.48 368.41 1484.74 370.11 1481.12 371.82 1477.61 373.52 1474.23 375.23 1470.98 376.93 1467.85 378.64 1464.86 380.34 1462 382.05 1459.28 383.75 1456.7 385.46 1454.27 387.16 1451.98 388.87 1449.83 390.57 1447.84 392.28 1446 393.98 1444.31 395.69 1442.78 397.39 1441.41 399.1 1440.2 400.8 1439.14 402.51 1438.24 404.21 1437.51 405.92 1436.94 407.62 1436.53 409.33 1436.29 411.03 1436.2 412.74 1436.29 414.44 1436.53 416.15 1436.94 417.86 1437.51 419.56 1438.24 421.27 1439.14 422.97 1440.2 424.68 1441.41 426.38 1442.78 428.09 1444.31 429.79 1446 431.5 1447.84 433.2 1449.83 434.91 1451.98 436.61 1454.27 438.32 1456.7 440.02 1459.28 441.73 1462 443.43 1464.86 445.14 1467.85 446.84 1470.98 448.55 1474.23 450.25 1477.61 451.96 1481.12 453.66 1484.74 455.37 1488.48 457.07 1492.33 458.78 1496.29 460.48 1500.35 462.19 1504.51 463.89 1508.77 465.6 1513.12 467.3 1517.56 469.01 1522.08 470.71 1526.68 472.42 1531.36 474.12 1536.1 475.83 1540.91 477.53 1545.78 479.24 1550.71 480.94 1555.68 482.65 1560.7 484.35 1565.76 486.06 1570.86 487.76 1575.99 489.47 1581.14 491.18 1586.32 492.88 1591.51 494.59 1596.71 496.29 1601.91 498 1607.12 499.7 1612.32 501.41 1617.51 503.11 1622.68 504.82 1627.83 506.52 1632.96 508.23 1638.06 509.93 1643.12 511.64 1648.14 513.34 1653.12 515.05 1658.04 516.75 1662.91 518.46 1667.72 520.16 1672.47 521.87 1677.14 523.57 1681.74 525.28 1686.26 526.98 1690.7 528.69 1695.05 530.39 1699.31 532.1 1703.48 533.8 1707.54 535.51 1711.5 537.21 1715.35 538.92 1719.09 540.62 1722.71 542.33 1726.21 544.03 1729.59 545.74 1732.85 547.44 1735.97 549.15 1738.97 550.85 1741.82 552.56 1744.54 554.26 1747.12 555.97 1749.56 557.67 1751.85 559.38 1753.99 561.09 1755.98 562.79 1757.82 564.5 1759.51 566.2 1761.04 567.91 1762.41 569.61 1763.63 571.32 1764.69 573.02 1765.58 574.73 1766.31 576.43 1766.89 578.14 1767.29 579.84 1767.54 581.55 1767.62" stroke="#000" stroke-width="4.000" fill="none" stroke-linecap="square" stroke-linejoin="round"/>
<path d="M104.11 1335.06 105.82 1335.65 107.52 1337.09 109.23 1339.33 110.93 1342.32 112.64 1346.02 114.34 1350.36 116.05 1355.32 117.75 1360.85 119.46 1366.89 121.16 1373.43 122.87 1380.4 124.57 1387.79 126.28 1395.54 127.98 1403.64 129.69 1412.03 131.4 1420.69 133.1 1429.6 134.81 1438.71 136.51 1448.01 138.22 1457.46 139.92 1467.04 141.63 1476.72 143.33 1486.49 145.04 1496.31 146.74 1506.16 148.45 1516.03 150.15 1525.89 151.86 1535.73 153.56 1545.53 155.27 1555.27 156.97 1564.93 158.68 1574.5 160.38 1583.97 162.09 1593.33 163.79 1602.55 165.5 1611.62 167.2 1620.55 168.91 1629.31 170.61 1637.89 172.32 1646.3 174.02 1654.51 175.73 1662.52 177.43 1670.32 179.14 1677.91 180.84 1685.28 182.55 1692.43 184.25 1699.34 185.96 1706.02 187.66 1712.46 189.37 1718.66 191.07 1724.62 192.78 1730.33 194.48 1735.78 196.19 1740.99 197.89 1745.94 199.6 1750.64 201.31 1755.09 203.01 1759.28 204.72 1763.22 206.42 1766.9 208.13 1770.33 209.83 1773.51 211.54 1776.44 213.24 1779.12 214.95 1781.55 216.65 1783.73 218.36 1785.68 220.06 1787.38 221.77 1788.85 223.47 1790.08 225.18 1791.08 226.88 1791.85 228.59 1792.4 230.29 1792.73 232 1792.84 233.7 1792.74 235.41 1792.43 237.11 1791.92 238.82 1791.2 240.52 1790.29 242.23 1789.19 243.93 1787.9 245.64 1786.43 247.34 1784.78 249.05 1782.96 250.75 1780.97 252.46 1778.82 254.16 1776.51 255.87 1774.04 257.57 1771.44 259.28 1768.68 260.98 1765.79 262.69 1762.77 264.39 1759.62 266.1 1756.35 267.8 1752.96 269.51 1749.45 271.21 1745.84 272.92 1742.13 274.63 1738.32 276.33 1734.42 278.04 1730.44 279.74 1726.37 281.45 1722.22 283.15 1718 284.86 1713.71 286.56 1709.36 288.27 1704.96 289.97 1700.5 291.68 1695.99 293.38 1691.44 295.09 1686.84 296.79 1682.22 298.5 1677.56 300.2 1672.88 301.91 1668.17 303.61 1663.45 305.32 1658.72 307.02 1653.97 308.73 1649.22 310.43 1644.47 312.14 1639.73 313.84 1634.99 315.55 1630.26 317.25 1625.54 318.96 1620.84 320.66 1616.17 322.37 1611.52 324.07 1606.9 325.78 1602.31 327.48 1597.75 329.19 1593.24 330.89 1588.76 332.6 1584.33 334.3 1579.95 336.01 1575.62 337.71 1571.34 339.42 1567.12 341.12 1562.96 342.83 1558.86 344.54 1554.83 346.24 1550.86 347.95 1546.96 349.65 1543.14 351.36 1539.38 353.06 1535.71 354.77 1532.12 356.47 1528.6 358.18 1525.17 359.88 1521.83 361.59 1518.57 363.29 1515.4 365 1512.32 366.7 1509.34 368.41 1506.45 370.11 1503.66 371.82 1500.97 373.52 1498.37 375.23 1495.88 376.93 1493.49 378.64 1491.21 380.34 1489.03 382.05 1486.96 383.75 1485 385.46 1483.15 387.16 1481.41 388.87 1479.78 390.57 1478.27 392.28 1476.87 393.98 1475.59 395.69 1474.43 397.39 1473.38 399.1 1472.46 400.8 1471.65 402.51 1470.96 404.21 1470.4 405.92 1469.96 407.62 1469.64 409.33 1469.45 411.03 1469.38 412.74 1469.44 414.44 1469.62 416.15 1469.93 417.86 1470.37 419.56 1470.93 421.27 1471.63 422.97 1472.45 424.68 1473.4 426.38 1474.48 428.09 1475.69 429.79 1477.03 431.5 1478.5 433.2 1480.1 434.91 1481.83 436.61 1483.69 438.32 1485.68 440.02 1487.8 441.73 1490.04 443.43 1492.42 445.14 1494.93 446.84 1497.56 448.55 1500.33 450.25 1503.22 451.96 1506.23 453.66 1509.38 455.37 1512.64 457.07 1516.04 458.78 1519.55 460.48 1523.19 462.19 1526.95 463.89 1530.83 465.6 1534.82 467.3 1538.94 469.01 1543.16 470.71 1547.5 472.42 1551.96 474.12 1556.52 475.83 1561.18 477.53 1565.95 479.24 1570.83 480.94 1575.8 482.65 1580.86 484.35 1586.02 486.06 1591.27 487.76 1596.61 489.47 1602.02 491.18 1607.52 492.88 1613.08 494.59 1618.72 496.29 1624.42 498 1630.19 499.7 1636 501.41 1641.87 503.11 1647.78 504.82 1653.72 506.52 1659.7 508.23 1665.7 509.93 1671.72 511.64 1677.75 513.34 1683.78 515.05 1689.81 516.75 1695.82 518.46 1701.81 520.16 1707.76 521.87 1713.68 523.57 1719.54 525.28 1725.34 526.98 1731.07 528.69 1736.71 530.39 1742.26 532.1 1747.69 533.8 1753.01 535.51 1758.18 537.21 1763.21 538.92 1768.08 540.62 1772.76 542.33 1777.25 544.03 1781.53 545.74 1785.58 547.44 1789.38 549.15 1792.91 550.85 1796.17 552.56 1799.11 554.26 1801.74 555.97 1804.02 557.67 1805.93 559.38 1807.45 561.09 1808.55 562.79 1809.22 564.5 1809.42 566.2 1809.12 567.91 1808.32 569.61 1806.96 571.32 1805.03 573.02 1802.49 574.73 1799.32 576.43 1795.47 578.14 1790.93 579.84 1785.64 581.55 1779.59" stroke="#00f" stroke-width="4.000" fill="none" stroke-linecap="square" stroke-linejoin="round"/>
<g fill="#f00"><circle cx="104.5" cy="1335.5" r="9.333"/><circle cx="157.5" cy="1564.5" r="9.333"/><circle cx="210.5" cy="1779.5" r="9.333"/><circle cx="263.5" cy="1752.5" r="9.333"/><circle cx="316.5" cy="1639.5" r="9.333"/><circle cx="369.5" cy="1497.5" r="9.333"/><circle cx="422.5" cy="1475.5" r="9.333"/><circle cx="475.5" cy="1560.5" r="9.333"/><circle cx="528.5" cy="1736.5" r="9.333"/><circle cx="582.5" cy="1780.5" r="9.333"/></g>
<rect x="80" y="1311" width="525" height="522" fill="none" stroke="#000" stroke-width="2.133"/>
<g font-size="26.667" text-anchor="end">
<text x="61.85" y="1810.84">0.2</text>
<text x="61.62" y="1744.79">0.3</text>
<text x="61.92" y="1677.77">0.4</text>
<text x="61.75" y="1611.74">0.5</text>
<text x="61.86" y="1545.84">0.6</text>
<text x="61.85" y="1478.85">0.7</text>
<text x="61.71" y="1412.72">0.8</text>
<text x="61.86" y="1346.70">0.9</text>
</g><g font-size="26.667" text-anchor="middle">
<text x="240.60" y="1871.74">0.5</text>
<text x="411.59" y="1871.80">1.0</text>
<text x="581.48" y="1871.82">1.5</text>
</g>
<text font-size="32.000" text-anchor="middle" x="342.26" y="1294.90">M= 7</text>
</g>
<g>
<path d="M871 1311 V1833 M1041 1311 V1833 M1212 1311 V1833 M710 1815 H1236 M710 1747 H1236 M710 1679 H1236 M710 1612 H1236 M710 1544 H1236 M710 1476 H1236 M710 1408 H1236 M710 1340 H1236" stroke="#b0b0b0" stroke-width="2.133" fill="none"/>
<path d="M871 1833 v9 M1041 1833 v9 M1212 1833 v9 M710 1815 h-9 M710 1747 h-9 M710 1679 h-9 M710 1612 h-9 M710 1544 h-9 M710 1476 h-9 M710 1408 h-9 M710 1340 h-9" stroke="#000" stroke-width="2.133" fill="none"/>
<path d="M734.33 1474.4 736.03 1477.6 737.74 1480.93 739.44 1484.39 741.15 1487.97 742.85 1491.68 744.56 1495.5 746.26 1499.44 747.97 1503.49 749.67 1507.65 751.38 1511.91 753.08 1516.26 754.79 1520.71 756.49 1525.25 758.2 1529.88 759.9 1534.59 761.61 1539.37 763.31 1544.22 765.02 1549.14 766.72 1554.13 768.43 1559.16 770.13 1564.25 771.84 1569.39 773.54 1574.57 775.25 1579.78 776.95 1585.03 778.66 1590.3 780.36 1595.6 782.07 1600.91 783.77 1606.22 785.48 1611.55 787.18 1616.87 788.89 1622.19 790.59 1627.5 792.3 1632.8 794 1638.07 795.71 1643.32 797.41 1648.53 799.12 1653.71 800.82 1658.85 802.53 1663.94 804.23 1668.97 805.94 1673.96 807.65 1678.88 809.35 1683.73 811.06 1688.51 812.76 1693.22 814.47 1697.84 816.17 1702.39 817.88 1706.84 819.58 1711.19 821.29 1715.45 822.99 1719.61 824.7 1723.66 826.4 1727.6 828.11 1731.42 829.81 1735.13 831.52 1738.71 833.22 1742.17 834.93 1745.5 836.63 1748.7 838.34 1751.76 840.04 1754.68 841.75 1757.47 843.45 1760.11 845.16 1762.6 846.86 1764.94 848.57 1767.13 850.27 1769.17 851.98 1771.05 853.68 1772.78 855.39 1774.34 857.09 1775.75 858.8 1776.99 860.5 1778.07 862.21 1778.99 863.91 1779.74 865.62 1780.32 867.32 1780.74 869.03 1780.99 870.73 1781.07 872.44 1780.99 874.14 1780.74 875.85 1780.32 877.56 1779.74 879.26 1778.99 880.97 1778.07 882.67 1776.99 884.38 1775.75 886.08 1774.34 887.79 1772.78 889.49 1771.05 891.2 1769.17 892.9 1767.13 894.61 1764.94 896.31 1762.6 898.02 1760.11 899.72 1757.47 901.43 1754.68 903.13 1751.76 904.84 1748.7 906.54 1745.5 908.25 1742.17 909.95 1738.71 911.66 1735.13 913.36 1731.42 915.07 1727.6 916.77 1723.66 918.48 1719.61 920.18 1715.45 921.89 1711.19 923.59 1706.84 925.3 1702.39 927 1697.84 928.71 1693.22 930.41 1688.51 932.12 1683.73 933.82 1678.88 935.53 1673.96 937.23 1668.97 938.94 1663.94 940.64 1658.85 942.35 1653.71 944.05 1648.53 945.76 1643.32 947.46 1638.07 949.17 1632.8 950.88 1627.5 952.58 1622.19 954.29 1616.87 955.99 1611.55 957.7 1606.22 959.4 1600.91 961.11 1595.6 962.81 1590.3 964.52 1585.03 966.22 1579.78 967.93 1574.57 969.63 1569.39 971.34 1564.25 973.04 1559.16 974.75 1554.13 976.45 1549.14 978.16 1544.22 979.86 1539.37 981.57 1534.59 983.27 1529.88 984.98 1525.25 986.68 1520.71 988.39 1516.26 990.09 1511.91 991.8 1507.65 993.5 1503.49 995.21 1499.44 996.91 1495.5 998.62 1491.68 1000.32 1487.97 1002.03 1484.39 1003.73 1480.93 1005.44 1477.6 1007.14 1474.4 1008.85 1471.34 1010.55 1468.41 1012.26 1465.63 1013.96 1462.99 1015.67 1460.5 1017.37 1458.16 1019.08 1455.97 1020.78 1453.93 1022.49 1452.05 1024.2 1450.32 1025.9 1448.76 1027.61 1447.35 1029.31 1446.11 1031.02 1445.03 1032.72 1444.11 1034.43 1443.36 1036.13 1442.78 1037.84 1442.36 1039.54 1442.11 1041.25 1442.02 1042.95 1442.11 1044.66 1442.36 1046.36 1442.78 1048.07 1443.36 1049.77 1444.11 1051.48 1445.03 1053.18 1446.11 1054.89 1447.35 1056.59 1448.76 1058.3 1450.32 1060 1452.05 1061.71 1453.93 1063.41 1455.97 1065.12 1458.16 1066.82 1460.5 1068.53 1462.99 1070.23 1465.63 1071.94 1468.41 1073.64 1471.34 1075.35 1474.4 1077.05 1477.6 1078.76 1480.93 1080.46 1484.39 1082.17 1487.97 1083.87 1491.68 1085.58 1495.5 1087.28 1499.44 1088.99 1503.49 1090.69 1507.65 1092.4 1511.91 1094.11 1516.26 1095.81 1520.71 1097.52 1525.25 1099.22 1529.88 1100.93 1534.59 1102.63 1539.37 1104.34 1544.22 1106.04 1549.14 1107.75 1554.13 1109.45 1559.16 1111.16 1564.25 1112.86 1569.39 1114.57 1574.57 1116.27 1579.78 1117.98 1585.03 1119.68 1590.3 1121.39 1595.6 1123.09 1600.91 1124.8 1606.22 1126.5 1611.55 1128.21 1616.87 1129.91 1622.19 1131.62 1627.5 1133.32 1632.8 1135.03 1638.07 1136.73 1643.32 1138.44 1648.53 1140.14 1653.71 1141.85 1658.85 1143.55 1663.94 1145.26 1668.97 1146.96 1673.96 1148.67 1678.88 1150.37 1683.73 1152.08 1688.51 1153.78 1693.22 1155.49 1697.84 1157.19 1702.39 1158.9 1706.84 1160.6 1711.19 1162.31 1715.45 1164.01 1719.61 1165.72 1723.66 1167.43 1727.6 1169.13 1731.42 1170.84 1735.13 1172.54 1738.71 1174.25 1742.17 1175.95 1745.5 1177.66 1748.7 1179.36 1751.76 1181.07 1754.68 1182.77 1757.47 1184.48 1760.11 1186.18 1762.6 1187.89 1764.94 1189.59 1767.13 1191.3 1769.17 1193 1771.05 1194.71 1772.78 1196.41 1774.34 1198.12 1775.75 1199.82 1776.99 1201.53 1778.07 1203.23 1778.99 1204.94 1779.74 1206.64 1780.32 1208.35 1780.74 1210.05 1780.99 1211.76 1781.07" stroke="#000" stroke-width="4.000" fill="none" stroke-linecap="square" stroke-linejoin="round"/>
<path d="M734.33 1338.68 736.03 1336.27 737.74 1335.16 739.44 1335.27 741.15 1336.5 742.85 1338.79 744.56 1342.04 746.26 1346.2 747.97 1351.18 749.67 1356.93 751.38 1363.37 753.08 1370.44 754.79 1378.09 756.49 1386.26 758.2 1394.9 759.9 1403.95 761.61 1413.37 763.31 1423.11 765.02 1433.13 766.72 1443.39 768.43 1453.85 770.13 1464.47 771.84 1475.21 773.54 1486.05 775.25 1496.95 776.95 1507.89 778.66 1518.82 780.36 1529.74 782.07 1540.62 783.77 1551.42 785.48 1562.14 787.18 1572.75 788.89 1583.23 790.59 1593.57 792.3 1603.75 794 1613.75 795.71 1623.57 797.41 1633.18 799.12 1642.58 800.82 1651.76 802.53 1660.71 804.23 1669.42 805.94 1677.88 807.65 1686.08 809.35 1694.03 811.06 1701.71 812.76 1709.12 814.47 1716.26 816.17 1723.12 817.88 1729.7 819.58 1736 821.29 1742.02 822.99 1747.75 824.7 1753.21 826.4 1758.37 828.11 1763.26 829.81 1767.87 831.52 1772.19 833.22 1776.24 834.93 1780.01 836.63 1783.51 838.34 1786.74 840.04 1789.7 841.75 1792.4 843.45 1794.83 845.16 1797.01 846.86 1798.93 848.57 1800.61 850.27 1802.04 851.98 1803.23 853.68 1804.19 855.39 1804.91 857.09 1805.41 858.8 1805.68 860.5 1805.74 862.21 1805.59 863.91 1805.23 865.62 1804.67 867.32 1803.91 869.03 1802.96 870.73 1801.83 872.44 1800.51 874.14 1799.02 875.85 1797.36 877.56 1795.54 879.26 1793.56 880.97 1791.42 882.67 1789.13 884.38 1786.7 886.08 1784.13 887.79 1781.42 889.49 1778.59 891.2 1775.63 892.9 1772.55 894.61 1769.36 896.31 1766.06 898.02 1762.66 899.72 1759.15 901.43 1755.55 903.13 1751.86 904.84 1748.09 906.54 1744.23 908.25 1740.29 909.95 1736.28 911.66 1732.21 913.36 1728.06 915.07 1723.86 916.77 1719.6 918.48 1715.29 920.18 1710.93 921.89 1706.53 923.59 1702.08 925.3 1697.6 927 1693.09 928.71 1688.54 930.41 1683.97 932.12 1679.38 933.82 1674.77 935.53 1670.14 937.23 1665.5 938.94 1660.86 940.64 1656.2 942.35 1651.55 944.05 1646.89 945.76 1642.24 947.46 1637.6 949.17 1632.96 950.88 1628.34 952.58 1623.74 954.29 1619.15 955.99 1614.59 957.7 1610.05 959.4 1605.54 961.11 1601.06 962.81 1596.61 964.52 1592.2 966.22 1587.83 967.93 1583.51 969.63 1579.22 971.34 1574.98 973.04 1570.8 974.75 1566.66 976.45 1562.58 978.16 1558.56 979.86 1554.6 981.57 1550.7 983.27 1546.87 984.98 1543.11 986.68 1539.42 988.39 1535.8 990.09 1532.25 991.8 1528.79 993.5 1525.4 995.21 1522.1 996.91 1518.89 998.62 1515.76 1000.32 1512.73 1002.03 1509.78 1003.73 1506.94 1005.44 1504.19 1007.14 1501.54 1008.85 1498.99 1010.55 1496.55 1012.26 1494.21 1013.96 1491.99 1015.67 1489.87 1017.37 1487.87 1019.08 1485.99 1020.78 1484.22 1022.49 1482.58 1024.2 1481.05 1025.9 1479.66 1027.61 1478.38 1029.31 1477.24 1031.02 1476.22 1032.72 1475.34 1034.43 1474.59 1036.13 1473.97 1037.84 1473.49 1039.54 1473.15 1041.25 1472.95 1042.95 1472.89 1044.66 1472.97 1046.36 1473.19 1048.07 1473.56 1049.77 1474.08 1051.48 1474.74 1053.18 1475.55 1054.89 1476.51 1056.59 1477.61 1058.3 1478.87 1060 1480.27 1061.71 1481.83 1063.41 1483.53 1065.12 1485.39 1066.82 1487.39 1068.53 1489.55 1070.23 1491.86 1071.94 1494.31 1073.64 1496.91 1075.35 1499.66 1077.05 1502.56 1078.76 1505.6 1080.46 1508.79 1082.17 1512.12 1083.87 1515.59 1085.58 1519.2 1087.28 1522.95 1088.99 1526.83 1090.69 1530.85 1092.4 1534.99 1094.11 1539.27 1095.81 1543.67 1097.52 1548.18 1099.22 1552.82 1100.93 1557.58 1102.63 1562.44 1104.34 1567.41 1106.04 1572.48 1107.75 1577.65 1109.45 1582.92 1111.16 1588.28 1112.86 1593.71 1114.57 1599.23 1116.27 1604.82 1117.98 1610.48 1119.68 1616.21 1121.39 1621.98 1123.09 1627.81 1124.8 1633.68 1126.5 1639.59 1128.21 1645.53 1129.91 1651.49 1131.62 1657.46 1133.32 1663.44 1135.03 1669.43 1136.73 1675.4 1138.44 1681.36 1140.14 1687.3 1141.85 1693.2 1143.55 1699.06 1145.26 1704.87 1146.96 1710.63 1148.67 1716.31 1150.37 1721.92 1152.08 1727.44 1153.78 1732.87 1155.49 1738.2 1157.19 1743.4 1158.9 1748.49 1160.6 1753.44 1162.31 1758.24 1164.01 1762.9 1165.72 1767.39 1167.43 1771.7 1169.13 1775.84 1170.84 1779.78 1172.54 1783.51 1174.25 1787.04 1175.95 1790.34 1177.66 1793.41 1179.36 1796.24 1181.07 1798.82 1182.77 1801.14 1184.48 1803.19 1186.18 1804.97 1187.89 1806.46 1189.59 1807.65 1191.3 1808.54 1193 1809.13 1194.71 1809.4 1196.41 1809.34 1198.12 1808.96 1199.82 1808.24 1201.53 1807.18 1203.23 1805.78 1204.94 1804.02 1206.64 1801.91 1208.35 1799.45 1210.05 1796.63 1211.76 1793.45" stroke="#00f" stroke-width="4.000" fill="none" stroke-linecap="square" stroke-linejoin="round"/>
<g fill="#f00"><circle cx="734.5" cy="1339.5" r="9.333"/><circle cx="787.5" cy="1573.5" r="9.333"/><circle cx="840.5" cy="1793.5" r="9.333"/><circle cx="893.5" cy="1765.5" r="9.333"/><circle cx="947.5" cy="1650.5" r="9.333"/><circle cx="1000.5" cy="1504.5" r="9.333"/><circle cx="1053.5" cy="1482.5" r="9.333"/><circle cx="1106.5" cy="1569.5" r="9.333"/><circle cx="1159.5" cy="1749.5" r="9.333"/><circle cx="1212.5" cy="1793.5" r="9.333"/></g>
<rect x="710" y="1311" width="526" height="522" fill="none" stroke="#000" stroke-width="2.133"/>
<g font-size="26.667" text-anchor="end">
<text x="691.85" y="1824.84">0.2</text>
<text x="691.62" y="1756.79">0.3</text>
<text x="691.92" y="1688.77">0.4</text>
<text x="691.75" y="1621.74">0.5</text>
<text x="691.86" y="1553.84">0.6</text>
<text x="691.85" y="1485.85">0.7</text>
<text x="691.71" y="1417.72">0.8</text>
<text x="691.86" y="1349.70">0.9</text>
</g><g font-size="26.667" text-anchor="middle">
<text x="870.60" y="1871.74">0.5</text>
<text x="1041.59" y="1871.80">1.0</text>
<text x="1211.48" y="1871.82">1.5</text>
</g>
<text font-size="32.000" text-anchor="middle" x="973.25" y="1294.86">M= 8</text>
</g>
<g>
<path d="M1501 1311 V1833 M1671 1311 V1833 M1842 1311 V1833 M1341 1828 H1866 M1341 1734 H1866 M1341 1640 H1866 M1341 1546 H1866 M1341 1453 H1866 M1341 1359 H1866" stroke="#b0b0b0" stroke-width="2.133" fill="none"/>
<path d="M1501 1833 v9 M1671 1833 v9 M1842 1833 v9 M1341 1828 h-9 M1341 1734 h-9 M1341 1640 h-9 M1341 1546 h-9 M1341 1453 h-9 M1341 1359 h-9" stroke="#000" stroke-width="2.133" fill="none"/>
<path d="M1364.54 1498.43 1366.24 1500.64 1367.95 1502.94 1369.65 1505.33 1371.36 1507.81 1373.06 1510.37 1374.77 1513.02 1376.47 1515.74 1378.18 1518.54 1379.88 1521.42 1381.59 1524.37 1383.29 1527.38 1385 1530.46 1386.7 1533.6 1388.41 1536.8 1390.11 1540.05 1391.82 1543.36 1393.52 1546.72 1395.23 1550.12 1396.93 1553.57 1398.64 1557.05 1400.34 1560.57 1402.05 1564.12 1403.75 1567.71 1405.46 1571.31 1407.16 1574.94 1408.87 1578.59 1410.58 1582.25 1412.28 1585.92 1413.99 1589.6 1415.69 1593.28 1417.4 1596.97 1419.1 1600.64 1420.81 1604.32 1422.51 1607.98 1424.22 1611.62 1425.92 1615.25 1427.63 1618.86 1429.33 1622.44 1431.04 1625.99 1432.74 1629.51 1434.45 1633 1436.15 1636.45 1437.86 1639.85 1439.56 1643.21 1441.27 1646.51 1442.97 1649.77 1444.68 1652.97 1446.38 1656.11 1448.09 1659.19 1449.79 1662.2 1451.5 1665.15 1453.2 1668.02 1454.91 1670.82 1456.61 1673.55 1458.32 1676.19 1460.02 1678.75 1461.73 1681.23 1463.43 1683.63 1465.14 1685.93 1466.84 1688.14 1468.55 1690.26 1470.25 1692.28 1471.96 1694.2 1473.66 1696.03 1475.37 1697.75 1477.07 1699.37 1478.78 1700.89 1480.48 1702.3 1482.19 1703.6 1483.9 1704.79 1485.6 1705.88 1487.31 1706.85 1489.01 1707.71 1490.72 1708.46 1492.42 1709.09 1494.13 1709.61 1495.83 1710.01 1497.54 1710.3 1499.24 1710.47 1500.95 1710.53 1502.65 1710.47 1504.36 1710.3 1506.06 1710.01 1507.77 1709.61 1509.47 1709.09 1511.18 1708.46 1512.88 1707.71 1514.59 1706.85 1516.29 1705.88 1518 1704.79 1519.7 1703.6 1521.41 1702.3 1523.11 1700.89 1524.82 1699.37 1526.52 1697.75 1528.23 1696.03 1529.93 1694.2 1531.64 1692.28 1533.34 1690.26 1535.05 1688.14 1536.75 1685.93 1538.46 1683.63 1540.16 1681.23 1541.87 1678.75 1543.57 1676.19 1545.28 1673.55 1546.98 1670.82 1548.69 1668.02 1550.39 1665.15 1552.1 1662.2 1553.8 1659.19 1555.51 1656.11 1557.22 1652.97 1558.92 1649.77 1560.63 1646.51 1562.33 1643.21 1564.04 1639.85 1565.74 1636.45 1567.45 1633 1569.15 1629.51 1570.86 1625.99 1572.56 1622.44 1574.27 1618.86 1575.97 1615.25 1577.68 1611.62 1579.38 1607.98 1581.09 1604.32 1582.79 1600.64 1584.5 1596.97 1586.2 1593.28 1587.91 1589.6 1589.61 1585.92 1591.32 1582.25 1593.02 1578.59 1594.73 1574.94 1596.43 1571.31 1598.14 1567.71 1599.84 1564.12 1601.55 1560.57 1603.25 1557.05 1604.96 1553.57 1606.66 1550.12 1608.37 1546.72 1610.07 1543.36 1611.78 1540.05 1613.48 1536.8 1615.19 1533.6 1616.89 1530.46 1618.6 1527.38 1620.3 1524.37 1622.01 1521.42 1623.71 1518.54 1625.42 1515.74 1627.13 1513.02 1628.83 1510.37 1630.54 1507.81 1632.24 1505.33 1633.95 1502.94 1635.65 1500.64 1637.36 1498.43 1639.06 1496.31 1640.77 1494.29 1642.47 1492.36 1644.18 1490.54 1645.88 1488.81 1647.59 1487.19 1649.29 1485.68 1651 1484.27 1652.7 1482.96 1654.41 1481.77 1656.11 1480.69 1657.82 1479.72 1659.52 1478.86 1661.23 1478.11 1662.93 1477.48 1664.64 1476.96 1666.34 1476.55 1668.05 1476.26 1669.75 1476.09 1671.46 1476.03 1673.16 1476.09 1674.87 1476.26 1676.57 1476.55 1678.28 1476.96 1679.98 1477.48 1681.69 1478.11 1683.39 1478.86 1685.1 1479.72 1686.8 1480.69 1688.51 1481.77 1690.21 1482.96 1691.92 1484.27 1693.62 1485.68 1695.33 1487.19 1697.03 1488.81 1698.74 1490.54 1700.45 1492.36 1702.15 1494.29 1703.86 1496.31 1705.56 1498.43 1707.27 1500.64 1708.97 1502.94 1710.68 1505.33 1712.38 1507.81 1714.09 1510.37 1715.79 1513.02 1717.5 1515.74 1719.2 1518.54 1720.91 1521.42 1722.61 1524.37 1724.32 1527.38 1726.02 1530.46 1727.73 1533.6 1729.43 1536.8 1731.14 1540.05 1732.84 1543.36 1734.55 1546.72 1736.25 1550.12 1737.96 1553.57 1739.66 1557.05 1741.37 1560.57 1743.07 1564.12 1744.78 1567.71 1746.48 1571.31 1748.19 1574.94 1749.89 1578.59 1751.6 1582.25 1753.3 1585.92 1755.01 1589.6 1756.71 1593.28 1758.42 1596.97 1760.12 1600.64 1761.83 1604.32 1763.53 1607.98 1765.24 1611.62 1766.94 1615.25 1768.65 1618.86 1770.36 1622.44 1772.06 1625.99 1773.77 1629.51 1775.47 1633 1777.18 1636.45 1778.88 1639.85 1780.59 1643.21 1782.29 1646.51 1784 1649.77 1785.7 1652.97 1787.41 1656.11 1789.11 1659.19 1790.82 1662.2 1792.52 1665.15 1794.23 1668.02 1795.93 1670.82 1797.64 1673.55 1799.34 1676.19 1801.05 1678.75 1802.75 1681.23 1804.46 1683.63 1806.16 1685.93 1807.87 1688.14 1809.57 1690.26 1811.28 1692.28 1812.98 1694.2 1814.69 1696.03 1816.39 1697.75 1818.1 1699.37 1819.8 1700.89 1821.51 1702.3 1823.21 1703.6 1824.92 1704.79 1826.62 1705.88 1828.33 1706.85 1830.03 1707.71 1831.74 1708.46 1833.44 1709.09 1835.15 1709.61 1836.85 1710.01 1838.56 1710.3 1840.26 1710.47 1841.97 1710.53" stroke="#000" stroke-width="4.000" fill="none" stroke-linecap="square" stroke-linejoin="round"/>
<path d="M1364.54 1404.61 1366.24 1384.7 1367.95 1368.66 1369.65 1356.14 1371.36 1346.81 1373.06 1340.39 1374.77 1336.57 1376.47 1335.1 1378.18 1335.73 1379.88 1338.22 1381.59 1342.37 1383.29 1347.98 1385 1354.86 1386.7 1362.84 1388.41 1371.77 1390.11 1381.49 1391.82 1391.88 1393.52 1402.81 1395.23 1414.18 1396.93 1425.87 1398.64 1437.8 1400.34 1449.88 1402.05 1462.03 1403.75 1474.2 1405.46 1486.3 1407.16 1498.3 1408.87 1510.14 1410.58 1521.78 1412.28 1533.17 1413.99 1544.3 1415.69 1555.13 1417.4 1565.63 1419.1 1575.8 1420.81 1585.6 1422.51 1595.03 1424.22 1604.09 1425.92 1612.76 1427.63 1621.03 1429.33 1628.92 1431.04 1636.41 1432.74 1643.52 1434.45 1650.23 1436.15 1656.57 1437.86 1662.53 1439.56 1668.13 1441.27 1673.37 1442.97 1678.27 1444.68 1682.82 1446.38 1687.05 1448.09 1690.97 1449.79 1694.58 1451.5 1697.9 1453.2 1700.94 1454.91 1703.72 1456.61 1706.24 1458.32 1708.52 1460.02 1710.57 1461.73 1712.4 1463.43 1714.02 1465.14 1715.45 1466.84 1716.69 1468.55 1717.76 1470.25 1718.66 1471.96 1719.41 1473.66 1720.02 1475.37 1720.49 1477.07 1720.83 1478.78 1721.05 1480.48 1721.16 1482.19 1721.17 1483.9 1721.07 1485.6 1720.89 1487.31 1720.61 1489.01 1720.25 1490.72 1719.82 1492.42 1719.31 1494.13 1718.73 1495.83 1718.09 1497.54 1717.38 1499.24 1716.61 1500.95 1715.78 1502.65 1714.89 1504.36 1713.95 1506.06 1712.95 1507.77 1711.89 1509.47 1710.79 1511.18 1709.62 1512.88 1708.41 1514.59 1707.14 1516.29 1705.82 1518 1704.44 1519.7 1703.01 1521.41 1701.52 1523.11 1699.97 1524.82 1698.37 1526.52 1696.71 1528.23 1694.99 1529.93 1693.21 1531.64 1691.36 1533.34 1689.46 1535.05 1687.49 1536.75 1685.46 1538.46 1683.36 1540.16 1681.2 1541.87 1678.97 1543.57 1676.68 1545.28 1674.32 1546.98 1671.89 1548.69 1669.4 1550.39 1666.84 1552.1 1664.21 1553.8 1661.53 1555.51 1658.77 1557.22 1655.96 1558.92 1653.08 1560.63 1650.14 1562.33 1647.14 1564.04 1644.09 1565.74 1640.98 1567.45 1637.81 1569.15 1634.6 1570.86 1631.34 1572.56 1628.03 1574.27 1624.68 1575.97 1621.3 1577.68 1617.88 1579.38 1614.42 1581.09 1610.94 1582.79 1607.44 1584.5 1603.91 1586.2 1600.37 1587.91 1596.82 1589.61 1593.26 1591.32 1589.7 1593.02 1586.14 1594.73 1582.58 1596.43 1579.04 1598.14 1575.52 1599.84 1572.02 1601.55 1568.54 1603.25 1565.1 1604.96 1561.69 1606.66 1558.32 1608.37 1555 1610.07 1551.73 1611.78 1548.52 1613.48 1545.37 1615.19 1542.28 1616.89 1539.26 1618.6 1536.32 1620.3 1533.45 1622.01 1530.67 1623.71 1527.98 1625.42 1525.37 1627.13 1522.86 1628.83 1520.45 1630.54 1518.14 1632.24 1515.94 1633.95 1513.84 1635.65 1511.85 1637.36 1509.98 1639.06 1508.22 1640.77 1506.58 1642.47 1505.05 1644.18 1503.65 1645.88 1502.36 1647.59 1501.2 1649.29 1500.16 1651 1499.25 1652.7 1498.46 1654.41 1497.79 1656.11 1497.24 1657.82 1496.82 1659.52 1496.51 1661.23 1496.33 1662.93 1496.26 1664.64 1496.32 1666.34 1496.48 1668.05 1496.76 1669.75 1497.15 1671.46 1497.65 1673.16 1498.25 1674.87 1498.95 1676.57 1499.76 1678.28 1500.65 1679.98 1501.64 1681.69 1502.72 1683.39 1503.89 1685.1 1505.13 1686.8 1506.45 1688.51 1507.85 1690.21 1509.31 1691.92 1510.84 1693.62 1512.44 1695.33 1514.09 1697.03 1515.79 1698.74 1517.55 1700.45 1519.35 1702.15 1521.2 1703.86 1523.08 1705.56 1525.01 1707.27 1526.96 1708.97 1528.95 1710.68 1530.97 1712.38 1533.02 1714.09 1535.09 1715.79 1537.18 1717.5 1539.3 1719.2 1541.44 1720.91 1543.6 1722.61 1545.78 1724.32 1547.98 1726.02 1550.2 1727.73 1552.45 1729.43 1554.72 1731.14 1557.02 1732.84 1559.34 1734.55 1561.7 1736.25 1564.1 1737.96 1566.53 1739.66 1569.01 1741.37 1571.54 1743.07 1574.12 1744.78 1576.76 1746.48 1579.46 1748.19 1582.24 1749.89 1585.09 1751.6 1588.04 1753.3 1591.07 1755.01 1594.21 1756.71 1597.45 1758.42 1600.81 1760.12 1604.3 1761.83 1607.92 1763.53 1611.67 1765.24 1615.58 1766.94 1619.64 1768.65 1623.86 1770.36 1628.26 1772.06 1632.83 1773.77 1637.58 1775.47 1642.51 1777.18 1647.63 1778.88 1652.95 1780.59 1658.46 1782.29 1664.16 1784 1670.05 1785.7 1676.12 1787.41 1682.38 1789.11 1688.81 1790.82 1695.4 1792.52 1702.14 1794.23 1709.01 1795.93 1715.99 1797.64 1723.06 1799.34 1730.19 1801.05 1737.35 1802.75 1744.51 1804.46 1751.61 1806.16 1758.62 1807.87 1765.48 1809.57 1772.13 1811.28 1778.51 1812.98 1784.55 1814.69 1790.17 1816.39 1795.27 1818.1 1799.76 1819.8 1803.54 1821.51 1806.49 1823.21 1808.48 1824.92 1809.38 1826.62 1809.04 1828.33 1807.3 1830.03 1803.98 1831.74 1798.9 1833.44 1791.86 1835.15 1782.64 1836.85 1771.01 1838.56 1756.71 1840.26 1739.48 1841.97 1719.04" stroke="#00f" stroke-width="4.000" fill="none" stroke-linecap="square" stroke-linejoin="round"/>
<g fill="#f00"><circle cx="1365.5" cy="1405.5" r="9.333"/><circle cx="1418.5" cy="1567.5" r="9.333"/><circle cx="1471.5" cy="1719.5" r="9.333"/><circle cx="1524.5" cy="1699.5" r="9.333"/><circle cx="1577.5" cy="1620.5" r="9.333"/><circle cx="1630.5" cy="1519.5" r="9.333"/><circle cx="1683.5" cy="1503.5" r="9.333"/><circle cx="1736.5" cy="1564.5" r="9.333"/><circle cx="1789.5" cy="1688.5" r="9.333"/><circle cx="1842.5" cy="1719.5" r="9.333"/></g>
<rect x="1341" y="1311" width="525" height="522" fill="none" stroke="#000" stroke-width="2.133"/>
<g font-size="26.667" text-anchor="end">
<text x="1321.86" y="1837.73">0.0</text>
<text x="1321.85" y="1743.84">0.2</text>
<text x="1321.92" y="1649.77">0.4</text>
<text x="1321.86" y="1556.84">0.6</text>
<text x="1321.71" y="1462.72">0.8</text>
<text x="1322.77" y="1368.80">1.0</text>
</g><g font-size="26.667" text-anchor="middle">
<text x="1501.60" y="1871.74">0.5</text>
<text x="1671.59" y="1871.80">1.0</text>
<text x="1842.48" y="1871.82">1.5</text>
</g>
<text font-size="32.000" text-anchor="middle" x="1602.88" y="1294.86">M= 9</text>
</g>
</svg>
</body></html>
